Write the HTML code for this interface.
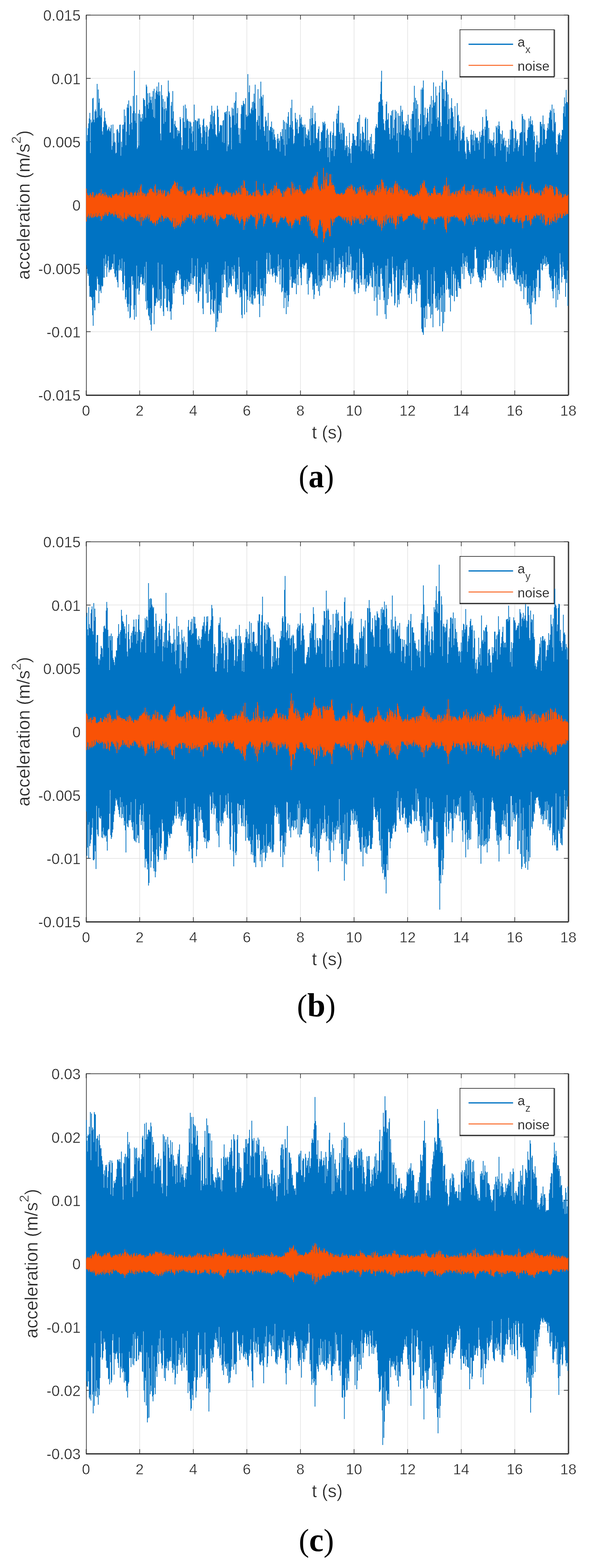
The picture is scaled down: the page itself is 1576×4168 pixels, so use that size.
<!DOCTYPE html>
<html lang="en"><head><meta charset="utf-8"><title>Acceleration signals</title>
<style>
html,body{margin:0;padding:0;background:#fff}
body{width:1576px;height:4168px;overflow:hidden}
svg{display:block}
text{font-family:"Liberation Sans",Arial,Helvetica,sans-serif;fill:#262626;stroke:#fff;stroke-width:0.6px}
.lg{stroke-width:0.2px}
.cap{font-family:"Liberation Serif","Times New Roman",serif;fill:#000;stroke:none}
.cap .par{font-size:84px;font-weight:400}
.cap .let{font-size:88px;font-weight:700}
</style></head><body>
<svg width="1576" height="4168" viewBox="0 0 1576 4168">
<rect width="1576" height="4168" fill="#fff"/>
<path d="M371.31 40.0V1050.0M513.72 40.0V1050.0M656.13 40.0V1050.0M798.54 40.0V1050.0M940.96 40.0V1050.0M1083.37 40.0V1050.0M1225.78 40.0V1050.0M1368.19 40.0V1050.0M228.9 208.33H1510.6M228.9 376.67H1510.6M228.9 545.00H1510.6M228.9 713.33H1510.6M228.9 881.67H1510.6" stroke="#262626" stroke-opacity="0.14" stroke-width="1.5" fill="none"/>
<path d="M228.90 1050.0v-12.0M228.90 40.0v12.0M371.31 1050.0v-12.0M371.31 40.0v12.0M513.72 1050.0v-12.0M513.72 40.0v12.0M656.13 1050.0v-12.0M656.13 40.0v12.0M798.54 1050.0v-12.0M798.54 40.0v12.0M940.96 1050.0v-12.0M940.96 40.0v12.0M1083.37 1050.0v-12.0M1083.37 40.0v12.0M1225.78 1050.0v-12.0M1225.78 40.0v12.0M1368.19 1050.0v-12.0M1368.19 40.0v12.0M1510.60 1050.0v-12.0M1510.60 40.0v12.0M228.9 40.00h12.0M1510.6 40.00h-12.0M228.9 208.33h12.0M1510.6 208.33h-12.0M228.9 376.67h12.0M1510.6 376.67h-12.0M228.9 545.00h12.0M1510.6 545.00h-12.0M228.9 713.33h12.0M1510.6 713.33h-12.0M228.9 881.67h12.0M1510.6 881.67h-12.0M228.9 1050.00h12.0M1510.6 1050.00h-12.0" stroke="#262626" stroke-width="1.6" fill="none"/>
<rect x="228.70" y="39.40" width="1282.20" height="1.7" fill="#262626"/><rect x="228.70" y="39.40" width="1.7" height="1012.80" fill="#262626"/><rect x="1510.90" y="39.80" width="2.0" height="1010.40" fill="#5c5c5c"/><rect x="1509.20" y="39.40" width="1.8" height="1012.80" fill="#262626"/><rect x="228.70" y="1049.00" width="1282.30" height="3.2" fill="#262626"/>
<path d="M229.7 339V705M231.2 377V713M232.7 359V727M234.2 341V733M235.7 328V728M237.2 315V760M238.7 300V789M240.2 407V788M241.7 318V789M243.2 327V791M244.7 324V798M246.2 262V838M247.7 260V866M249.2 318V789M250.7 325V818M252.2 296V825M253.7 291V771M255.2 296V770M256.7 314V773M258.2 223V735M259.7 312V741M261.2 238V756M262.7 273V806M264.2 262V757M265.7 307V774M267.2 290V770M268.7 312V779M270.2 287V759M271.7 349V762M273.2 358V760M274.7 338V738M276.2 323V687M277.7 296V738M279.2 313V707M280.7 322V677M282.2 329V701M283.7 333V736M285.2 348V711M286.7 345V693M288.2 342V681M289.7 337V724M291.2 347V718M292.7 350V715M294.2 341V718M295.7 332V716M297.2 398V710M298.7 388V701M300.2 331V700M301.7 379V715M303.2 354V676M304.7 377V727M306.2 379V737M307.7 408V735M309.2 406V719M310.7 345V744M312.2 343V750M313.7 349V764M315.2 379V705M316.7 353V719M318.2 332V690M319.7 331V718M321.2 414V713M322.7 377V720M324.2 391V687M325.7 332V750M327.2 343V772M328.7 331V755M330.2 291V696M331.7 325V733M333.2 308V796M334.7 386V790M336.2 350V770M337.7 286V807M339.2 277V816M340.7 287V828M342.2 267V808M343.7 359V764M345.2 330V846M346.7 281V843M348.2 283V812M349.7 326V735M351.2 344V734M352.7 301V757M354.2 255V746M355.7 295V823M357.2 188V850M358.7 321V811M360.2 301V767M361.7 327V842M363.2 253V706M364.7 396V768M366.2 392V766M367.7 302V734M369.2 387V783M370.7 292V773M372.2 304V751M373.7 323V737M375.2 313V729M376.7 323V736M378.2 303V756M379.7 317V755M381.2 261V740M382.7 265V759M384.2 266V709M385.7 282V752M387.2 313V801M388.7 225V696M390.2 230V823M391.7 278V799M393.2 248V819M394.7 289V838M396.2 273V841M397.7 247V851M399.2 257V819M400.7 266V863M402.2 274V879M403.7 257V832M405.2 291V757M406.7 242V766M408.2 311V763M409.7 236V862M411.2 314V813M412.7 263V813M414.2 246V806M415.7 241V791M417.2 230V794M418.7 251V803M420.2 244V698M421.7 219V799M423.2 254V799M424.7 243V769M426.2 355V819M427.7 373V795M429.2 226V813M430.7 253V703M432.2 285V749M433.7 263V828M435.2 329V840M436.7 290V759M438.2 270V794M439.7 324V760M441.2 288V766M442.7 294V817M444.2 256V817M445.7 260V827M447.2 214V769M448.7 243V799M450.2 247V803M451.7 353V828M453.2 352V827M454.7 281V850M456.2 271V820M457.7 315V809M459.2 242V752M460.7 296V766M462.2 368V780M463.7 330V757M465.2 321V752M466.7 335V724M468.2 339V747M469.7 339V732M471.2 362V726M472.7 346V719M474.2 355V719M475.7 348V728M477.2 354V744M478.7 311V730M480.2 317V741M481.7 365V768M483.2 398V781M484.7 386V787M486.2 314V782M487.7 281V810M489.2 324V761M490.7 340V745M492.2 278V782M493.7 340V763M495.2 288V773M496.7 320V742M498.2 316V776M499.7 321V770M501.2 395V748M502.7 323V750M504.2 341V760M505.7 323V755M507.2 326V726M508.7 355V755M510.2 336V686M511.7 378V739M513.2 349V757M514.7 324V740M516.2 278V735M517.7 401V734M519.2 319V706M520.7 320V775M522.2 400V781M523.7 323V736M525.2 321V687M526.7 315V805M528.2 342V800M529.7 315V752M531.2 331V775M532.7 338V761M534.2 354V765M535.7 382V711M537.2 365V756M538.7 333V820M540.2 318V835M541.7 315V725M543.2 347V730M544.7 337V728M546.2 383V703M547.7 351V780M549.2 333V714M550.7 337V805M552.2 399V697M553.7 363V804M555.2 346V742M556.7 342V757M558.2 324V775M559.7 305V836M561.2 330V822M562.7 281V796M564.2 296V771M565.7 343V826M567.2 309V830M568.7 300V834M570.2 294V799M571.7 331V794M573.2 357V882M574.7 360V751M576.2 364V870M577.7 281V847M579.2 291V855M580.7 311V826M582.2 354V810M583.7 349V832M585.2 333V812M586.7 332V802M588.2 335V832M589.7 333V731M591.2 378V779M592.7 321V729M594.2 319V764M595.7 380V717M597.2 299V730M598.7 298V695M600.2 303V745M601.7 296V790M603.2 402V751M604.7 281V791M606.2 389V707M607.7 384V764M609.2 296V759M610.7 305V741M612.2 310V753M613.7 339V756M615.2 397V761M616.7 286V710M618.2 307V733M619.7 289V716M621.2 307V741M622.7 273V705M624.2 332V722M625.7 268V775M627.2 245V782M628.7 328V777M630.2 301V740M631.7 287V757M633.2 340V769M634.7 358V684M636.2 380V709M637.7 341V791M639.2 381V778M640.7 303V789M642.2 279V837M643.7 284V846M645.2 280V724M646.7 268V768M648.2 275V772M649.7 277V836M651.2 345V755M652.7 261V770M654.2 305V774M655.7 311V830M657.2 309V787M658.7 197V797M660.2 307V722M661.7 245V732M663.2 227V800M664.7 300V790M666.2 303V728M667.7 290V807M669.2 286V783M670.7 271V807M672.2 293V810M673.7 270V773M675.2 249V786M676.7 274V794M678.2 225V792M679.7 289V774M681.2 373V763M682.7 324V693M684.2 319V783M685.7 237V775M687.2 334V782M688.7 308V808M690.2 262V843M691.7 344V742M693.2 217V766M694.7 256V785M696.2 259V766M697.7 281V774M699.2 252V813M700.7 337V787M702.2 348V739M703.7 361V782M705.2 310V788M706.7 323V754M708.2 320V689M709.7 377V672M711.2 335V728M712.7 300V718M714.2 400V722M715.7 346V672M717.2 348V729M718.7 337V677M720.2 338V715M721.7 323V714M723.2 351V730M724.7 340V735M726.2 371V728M727.7 344V712M729.2 357V725M730.7 365V732M732.2 372V751M733.7 394V733M735.2 397V732M736.7 369V736M738.2 356V708M739.7 380V676M741.2 368V721M742.7 374V705M744.2 403V756M745.7 351V716M747.2 362V689M748.7 362V777M750.2 343V774M751.7 370V765M753.2 319V711M754.7 385V819M756.2 323V777M757.7 414V792M759.2 344V778M760.7 326V835M762.2 384V773M763.7 329V785M765.2 310V816M766.7 298V801M768.2 368V784M769.7 338V689M771.2 332V744M772.7 287V710M774.2 339V735M775.7 265V765M777.2 322V765M778.7 344V752M780.2 383V751M781.7 380V743M783.2 361V753M784.7 300V754M786.2 315V740M787.7 325V782M789.2 343V691M790.7 318V730M792.2 355V758M793.7 354V715M795.2 337V675M796.7 305V709M798.2 315V724M799.7 328V739M801.2 311V758M802.7 331V710M804.2 339V701M805.7 332V703M807.2 337V713M808.7 389V706M810.2 331V704M811.7 339V700M813.2 366V697M814.7 357V700M816.2 368V755M817.7 360V715M819.2 344V783M820.7 349V746M822.2 372V739M823.7 316V737M825.2 386V727M826.7 287V722M828.2 333V724M829.7 314V729M831.2 281V770M832.7 330V760M834.2 380V795M835.7 330V783M837.2 300V754M838.7 322V742M840.2 368V753M841.7 367V760M843.2 371V759M844.7 353V673M846.2 343V774M847.7 336V732M849.2 402V786M850.7 375V748M852.2 396V763M853.7 351V745M855.2 352V759M856.7 347V731M858.2 324V742M859.7 327V738M861.2 333V691M862.7 323V741M864.2 329V733M865.7 393V690M867.2 367V702M868.7 346V693M870.2 342V747M871.7 418V718M873.2 358V731M874.7 392V733M876.2 431V713M877.7 353V766M879.2 349V698M880.7 394V722M882.2 401V747M883.7 359V742M885.2 353V730M886.7 323V735M888.2 415V659M889.7 361V750M891.2 397V743M892.7 361V722M894.2 316V732M895.7 302V708M897.2 328V745M898.7 294V731M900.2 281V702M901.7 351V685M903.2 357V702M904.7 326V691M906.2 371V738M907.7 355V728M909.2 326V711M910.7 372V680M912.2 328V696M913.7 345V716M915.2 339V764M916.7 399V752M918.2 387V727M919.7 393V671M921.2 362V710M922.7 386V722M924.2 415V704M925.7 391V724M927.2 407V655M928.7 353V705M930.2 395V724M931.7 408V675M933.2 433V682M934.7 388V743M936.2 380V739M937.7 355V718M939.2 356V719M940.7 361V775M942.2 372V770M943.7 372V782M945.2 387V718M946.7 387V751M948.2 362V698M949.7 325V742M951.2 324V755M952.7 315V779M954.2 389V766M955.7 305V661M957.2 370V732M958.7 355V751M960.2 402V742M961.7 373V757M963.2 337V670M964.7 350V675M966.2 353V686M967.7 379V757M969.2 369V742M970.7 316V740M972.2 312V775M973.7 399V766M975.2 373V731M976.7 316V750M978.2 402V761M979.7 372V758M981.2 387V755M982.7 381V726M984.2 364V733M985.7 410V739M987.2 356V718M988.7 397V762M990.2 408V764M991.7 408V698M993.2 422V710M994.7 402V800M996.2 383V721M997.7 341V761M999.2 336V791M1000.7 330V728M1002.2 339V839M1003.7 340V706M1005.2 298V783M1006.7 273V761M1008.2 270V763M1009.7 271V797M1011.2 250V714M1012.7 217V728M1014.2 188V712M1015.7 265V741M1017.2 281V760M1018.7 317V775M1020.2 328V798M1021.7 345V791M1023.2 347V835M1024.7 321V706M1026.2 277V848M1027.7 270V706M1029.2 319V811M1030.7 317V688M1032.2 301V795M1033.7 340V765M1035.2 356V754M1036.7 371V751M1038.2 306V755M1039.7 308V778M1041.2 295V788M1042.7 368V682M1044.2 292V712M1045.7 340V729M1047.2 360V747M1048.7 318V812M1050.2 292V806M1051.7 313V737M1053.2 296V719M1054.7 374V707M1056.2 354V817M1057.7 301V784M1059.2 405V797M1060.7 308V809M1062.2 352V716M1063.7 308V780M1065.2 281V772M1066.7 358V768M1068.2 297V744M1069.7 292V732M1071.2 331V718M1072.7 323V752M1074.2 360V761M1075.7 347V699M1077.2 333V693M1078.7 342V764M1080.2 322V745M1081.7 330V689M1083.2 330V731M1084.7 305V783M1086.2 342V783M1087.7 363V792M1089.2 346V779M1090.7 368V768M1092.2 316V770M1093.7 406V808M1095.2 303V757M1096.7 295V745M1098.2 303V710M1099.7 272V747M1101.2 228V752M1102.7 339V742M1104.2 260V780M1105.7 289V756M1107.2 267V801M1108.7 374V767M1110.2 277V758M1111.7 316V751M1113.2 353V728M1114.7 350V730M1116.2 333V757M1117.7 303V743M1119.2 238V817M1120.7 370V874M1122.2 233V882M1123.7 238V884M1125.2 214V890M1126.7 306V818M1128.2 338V845M1129.7 286V870M1131.2 336V814M1132.7 330V812M1134.2 313V848M1135.7 289V718M1137.2 300V807M1138.7 323V795M1140.2 360V808M1141.7 284V816M1143.2 278V813M1144.7 349V846M1146.2 255V729M1147.7 329V836M1149.2 286V807M1150.7 266V870M1152.2 219V781M1153.7 281V710M1155.2 273V747M1156.7 271V794M1158.2 230V819M1159.7 316V787M1161.2 254V817M1162.7 337V826M1164.2 312V779M1165.7 321V823M1167.2 246V797M1168.7 228V867M1170.2 325V792M1171.7 363V763M1173.2 335V829M1174.7 219V785M1176.2 188V881M1177.7 263V757M1179.2 237V859M1180.7 237V779M1182.2 283V829M1183.7 268V720M1185.2 212V725M1186.7 216V770M1188.2 245V730M1189.7 330V739M1191.2 251V767M1192.7 317V770M1194.2 289V791M1195.7 373V768M1197.2 315V828M1198.7 286V784M1200.2 261V709M1201.7 288V786M1203.2 298V787M1204.7 310V729M1206.2 339V720M1207.7 371V801M1209.2 282V740M1210.7 355V730M1212.2 362V773M1213.7 347V789M1215.2 274V789M1216.7 308V743M1218.2 305V750M1219.7 402V766M1221.2 322V760M1222.7 336V766M1224.2 374V768M1225.7 373V708M1227.2 369V710M1228.7 347V728M1230.2 338V673M1231.7 353V701M1233.2 334V742M1234.7 374V707M1236.2 403V684M1237.7 408V695M1239.2 423V710M1240.7 364V680M1242.2 371V698M1243.7 381V720M1245.2 375V726M1246.7 399V731M1248.2 404V734M1249.7 409V714M1251.2 358V755M1252.7 345V725M1254.2 371V726M1255.7 358V739M1257.2 386V715M1258.7 348V735M1260.2 373V713M1261.7 401V664M1263.2 355V656M1264.7 365V663M1266.2 366V687M1267.7 368V685M1269.2 365V724M1270.7 381V730M1272.2 374V737M1273.7 398V738M1275.2 350V750M1276.7 379V742M1278.2 364V752M1279.7 359V764M1281.2 347V735M1282.7 311V745M1284.2 343V739M1285.7 361V718M1287.2 422V690M1288.7 337V729M1290.2 345V745M1291.7 291V713M1293.2 309V712M1294.7 322V690M1296.2 320V691M1297.7 381V682M1299.2 340V696M1300.7 370V666M1302.2 376V687M1303.7 371V713M1305.2 381V710M1306.7 374V675M1308.2 374V677M1309.7 386V693M1311.2 371V721M1312.7 352V712M1314.2 392V683M1315.7 415V727M1317.2 382V666M1318.7 335V732M1320.2 339V710M1321.7 380V670M1323.2 333V746M1324.7 343V752M1326.2 323V691M1327.7 335V735M1329.2 355V681M1330.7 400V745M1332.2 357V664M1333.7 382V722M1335.2 347V727M1336.7 369V764M1338.2 373V725M1339.7 366V731M1341.2 389V718M1342.7 386V743M1344.2 374V746M1345.7 430V699M1347.2 391V716M1348.7 403V726M1350.2 392V702M1351.7 369V675M1353.2 409V684M1354.7 385V698M1356.2 345V729M1357.7 371V661M1359.2 320V683M1360.7 323V706M1362.2 342V719M1363.7 343V725M1365.2 403V730M1366.7 367V745M1368.2 394V747M1369.7 344V711M1371.2 349V754M1372.7 380V697M1374.2 374V756M1375.7 370V743M1377.2 402V743M1378.7 391V732M1380.2 386V750M1381.7 354V761M1383.2 354V731M1384.7 351V774M1386.2 351V737M1387.7 303V754M1389.2 309V755M1390.7 414V721M1392.2 316V795M1393.7 352V763M1395.2 319V744M1396.7 374V765M1398.2 377V729M1399.7 386V761M1401.2 367V811M1402.7 345V804M1404.2 339V766M1405.7 315V809M1407.2 338V820M1408.7 322V760M1410.2 309V835M1411.7 331V863M1413.2 330V785M1414.7 320V804M1416.2 333V774M1417.7 372V745M1419.2 350V792M1420.7 362V766M1422.2 430V809M1423.7 405V801M1425.2 384V740M1426.7 360V763M1428.2 385V717M1429.7 376V719M1431.2 394V716M1432.7 392V790M1434.2 379V766M1435.7 324V773M1437.2 324V700M1438.7 336V701M1440.2 330V717M1441.7 385V719M1443.2 307V688M1444.7 342V704M1446.2 330V701M1447.7 345V680M1449.2 382V701M1450.7 370V708M1452.2 369V684M1453.7 347V705M1455.2 340V696M1456.7 328V702M1458.2 344V702M1459.7 313V729M1461.2 299V737M1462.7 292V739M1464.2 295V746M1465.7 318V734M1467.2 278V768M1468.7 347V774M1470.2 351V793M1471.7 289V768M1473.2 300V715M1474.7 328V734M1476.2 324V765M1477.7 381V817M1479.2 405V724M1480.7 411V757M1482.2 384V797M1483.7 357V771M1485.2 361V740M1486.7 353V782M1488.2 358V673M1489.7 377V703M1491.2 370V713M1492.7 360V751M1494.2 345V736M1495.7 346V696M1497.2 301V709M1498.7 283V731M1500.2 259V742M1501.7 310V741M1503.2 275V789M1504.7 239V742M1506.2 271V752M1507.7 272V719M1509.2 277V813" stroke="#0073C3" stroke-width="2.0" fill="none"/>
<path d="M229.7 501V589M231.2 513V576M232.7 518V577M234.2 520V573M235.7 519V568M237.2 526V580M238.7 518V573M240.2 513V576M241.7 517V567M243.2 524V579M244.7 519V578M246.2 510V574M247.7 511V579M249.2 525V569M250.7 525V577M252.2 519V576M253.7 522V574M255.2 519V566M256.7 514V577M258.2 517V578M259.7 521V575M261.2 516V571M262.7 513V575M264.2 514V566M265.7 512V575M267.2 520V575M268.7 503V587M270.2 520V582M271.7 516V582M273.2 514V571M274.7 515V574M276.2 522V575M277.7 519V570M279.2 511V564M280.7 522V572M282.2 518V565M283.7 517V569M285.2 521V574M286.7 525V574M288.2 525V569M289.7 519V563M291.2 523V564M292.7 522V566M294.2 525V571M295.7 525V567M297.2 527V569M298.7 516V566M300.2 519V569M301.7 520V572M303.2 520V576M304.7 516V570M306.2 517V562M307.7 515V570M309.2 514V572M310.7 515V569M312.2 521V579M313.7 518V579M315.2 521V568M316.7 518V581M318.2 514V579M319.7 522V572M321.2 511V585M322.7 523V575M324.2 510V586M325.7 516V580M327.2 501V589M328.7 507V581M330.2 525V565M331.7 524V579M333.2 519V581M334.7 505V583M336.2 509V583M337.7 519V580M339.2 511V575M340.7 519V568M342.2 518V577M343.7 516V572M345.2 523V570M346.7 512V574M348.2 511V574M349.7 512V577M351.2 513V576M352.7 523V576M354.2 518V578M355.7 521V579M357.2 512V581M358.7 513V576M360.2 509V569M361.7 520V580M363.2 520V587M364.7 512V586M366.2 514V584M367.7 505V588M369.2 520V569M370.7 511V590M372.2 500V568M373.7 495V578M375.2 490V600M376.7 509V576M378.2 520V577M379.7 512V588M381.2 513V585M382.7 518V578M384.2 515V580M385.7 514V584M387.2 523V573M388.7 521V577M390.2 516V579M391.7 512V574M393.2 515V569M394.7 512V582M396.2 504V578M397.7 505V571M399.2 501V589M400.7 501V587M402.2 502V585M403.7 502V588M405.2 510V593M406.7 509V592M408.2 511V595M409.7 514V591M411.2 495V591M412.7 490V600M414.2 507V594M415.7 521V587M417.2 512V586M418.7 518V595M420.2 503V584M421.7 507V584M423.2 515V577M424.7 505V580M426.2 503V576M427.7 508V590M429.2 513V569M430.7 518V573M432.2 506V574M433.7 516V578M435.2 513V588M436.7 506V581M438.2 506V581M439.7 523V579M441.2 522V574M442.7 520V582M444.2 511V578M445.7 518V577M447.2 508V578M448.7 513V581M450.2 519V583M451.7 515V587M453.2 502V585M454.7 503V589M456.2 500V592M457.7 496V587M459.2 493V579M460.7 491V603M462.2 489V603M463.7 481V609M465.2 485V580M466.7 485V602M468.2 494V606M469.7 500V599M471.2 485V590M472.7 502V600M474.2 504V599M475.7 508V596M477.2 508V593M478.7 495V604M480.2 510V600M481.7 510V590M483.2 496V595M484.7 509V572M486.2 506V588M487.7 507V587M489.2 517V592M490.7 515V584M492.2 516V578M493.7 521V586M495.2 519V573M496.7 511V579M498.2 506V577M499.7 509V578M501.2 508V579M502.7 507V569M504.2 506V568M505.7 504V581M507.2 520V573M508.7 516V570M510.2 512V573M511.7 499V589M513.2 513V585M514.7 498V579M516.2 496V594M517.7 504V579M519.2 503V582M520.7 518V583M522.2 514V576M523.7 514V570M525.2 517V580M526.7 520V573M528.2 521V571M529.7 520V569M531.2 520V574M532.7 517V571M534.2 515V572M535.7 508V568M537.2 517V584M538.7 525V578M540.2 516V581M541.7 507V580M543.2 499V591M544.7 515V576M546.2 514V565M547.7 522V586M549.2 524V573M550.7 523V583M552.2 512V572M553.7 525V567M555.2 510V574M556.7 522V577M558.2 517V570M559.7 517V574M561.2 515V573M562.7 517V576M564.2 518V571M565.7 521V574M567.2 519V579M568.7 520V588M570.2 501V583M571.7 508V571M573.2 512V579M574.7 494V596M576.2 500V591M577.7 488V602M579.2 514V584M580.7 512V598M582.2 509V582M583.7 496V583M585.2 496V572M586.7 512V578M588.2 511V576M589.7 515V581M591.2 517V580M592.7 520V582M594.2 515V583M595.7 518V583M597.2 510V581M598.7 515V579M600.2 505V579M601.7 509V569M603.2 509V568M604.7 510V570M606.2 512V572M607.7 512V569M609.2 511V570M610.7 514V571M612.2 514V573M613.7 512V572M615.2 523V570M616.7 522V568M618.2 516V575M619.7 514V571M621.2 511V576M622.7 514V566M624.2 519V582M625.7 519V581M627.2 506V585M628.7 508V570M630.2 516V577M631.7 512V581M633.2 513V586M634.7 499V586M636.2 511V594M637.7 517V594M639.2 517V588M640.7 494V577M642.2 517V583M643.7 492V574M645.2 500V582M646.7 499V588M648.2 479V611M649.7 482V600M651.2 500V596M652.7 500V589M654.2 506V580M655.7 521V577M657.2 507V589M658.7 508V581M660.2 520V574M661.7 519V583M663.2 518V577M664.7 515V574M666.2 515V568M667.7 522V571M669.2 519V572M670.7 520V575M672.2 512V576M673.7 512V575M675.2 510V578M676.7 522V578M678.2 522V571M679.7 508V601M681.2 481V609M682.7 506V593M684.2 506V596M685.7 517V588M687.2 504V566M688.7 510V584M690.2 518V580M691.7 515V570M693.2 520V569M694.7 523V567M696.2 519V573M697.7 519V581M699.2 519V567M700.7 488V602M702.2 506V594M703.7 510V595M705.2 506V587M706.7 513V576M708.2 514V580M709.7 521V574M711.2 518V568M712.7 519V570M714.2 514V573M715.7 515V573M717.2 514V576M718.7 505V582M720.2 512V579M721.7 502V581M723.2 508V569M724.7 519V593M726.2 507V590M727.7 501V591M729.2 492V589M730.7 513V590M732.2 494V590M733.7 494V587M735.2 485V605M736.7 509V597M738.2 501V589M739.7 502V594M741.2 502V591M742.7 502V586M744.2 506V581M745.7 511V574M747.2 514V579M748.7 514V577M750.2 524V579M751.7 523V578M753.2 507V585M754.7 523V580M756.2 511V581M757.7 507V575M759.2 510V576M760.7 502V580M762.2 507V590M763.7 500V592M765.2 496V594M766.7 499V596M768.2 501V601M769.7 500V587M771.2 499V592M772.7 516V588M774.2 520V601M775.7 483V607M777.2 500V598M778.7 488V599M780.2 501V594M781.7 512V593M783.2 496V585M784.7 505V585M786.2 509V580M787.7 504V583M789.2 503V587M790.7 503V586M792.2 505V582M793.7 513V586M795.2 503V596M796.7 492V598M798.2 501V588M799.7 508V575M801.2 508V577M802.7 510V575M804.2 513V576M805.7 514V575M807.2 518V573M808.7 516V575M810.2 514V576M811.7 514V578M813.2 507V572M814.7 509V573M816.2 504V578M817.7 500V589M819.2 508V574M820.7 503V579M822.2 506V586M823.7 501V601M825.2 499V582M826.7 496V611M828.2 506V614M829.7 500V613M831.2 485V608M832.7 503V621M834.2 472V619M835.7 468V605M837.2 473V627M838.7 466V628M840.2 479V625M841.7 470V628M843.2 457V633M844.7 492V608M846.2 496V600M847.7 504V596M849.2 503V585M850.7 508V583M852.2 507V587M853.7 495V598M855.2 489V603M856.7 501V593M858.2 504V616M859.7 446V644M861.2 479V633M862.7 503V634M864.2 469V620M865.7 486V614M867.2 477V616M868.7 459V612M870.2 493V607M871.7 496V606M873.2 494V612M874.7 487V617M876.2 463V628M877.7 478V628M879.2 463V579M880.7 493V583M882.2 485V588M883.7 492V600M885.2 492V592M886.7 491V581M888.2 496V590M889.7 505V582M891.2 511V579M892.7 514V579M894.2 516V577M895.7 517V576M897.2 514V576M898.7 515V574M900.2 516V572M901.7 516V574M903.2 519V574M904.7 516V576M906.2 513V575M907.7 514V579M909.2 512V577M910.7 518V583M912.2 516V580M913.7 517V576M915.2 515V586M916.7 513V583M918.2 506V578M919.7 503V577M921.2 506V589M922.7 498V593M924.2 500V585M925.7 501V577M927.2 494V587M928.7 503V595M930.2 495V586M931.7 502V590M933.2 490V600M934.7 496V598M936.2 493V574M937.7 503V583M939.2 508V587M940.7 505V577M942.2 497V593M943.7 517V585M945.2 509V576M946.7 516V580M948.2 515V586M949.7 514V582M951.2 500V580M952.7 510V581M954.2 506V586M955.7 497V595M957.2 497V572M958.7 496V595M960.2 504V593M961.7 511V579M963.2 506V583M964.7 492V598M966.2 502V582M967.7 505V583M969.2 506V579M970.7 512V580M972.2 503V590M973.7 514V570M975.2 520V573M976.7 519V572M978.2 510V585M979.7 515V580M981.2 509V580M982.7 516V576M984.2 507V581M985.7 506V572M987.2 513V583M988.7 517V588M990.2 511V582M991.7 505V585M993.2 518V588M994.7 520V580M996.2 503V577M997.7 508V583M999.2 509V585M1000.7 506V585M1002.2 492V575M1003.7 492V600M1005.2 500V596M1006.7 512V591M1008.2 497V600M1009.7 490V603M1011.2 510V596M1012.7 503V586M1014.2 477V613M1015.7 478V606M1017.2 486V593M1018.7 484V586M1020.2 496V575M1021.7 501V600M1023.2 507V589M1024.7 500V572M1026.2 494V595M1027.7 517V570M1029.2 509V584M1030.7 508V582M1032.2 504V579M1033.7 504V578M1035.2 500V592M1036.7 498V572M1038.2 512V578M1039.7 513V581M1041.2 498V593M1042.7 500V573M1044.2 517V579M1045.7 513V593M1047.2 494V595M1048.7 488V586M1050.2 492V600M1051.7 481V609M1053.2 489V599M1054.7 498V591M1056.2 487V574M1057.7 492V575M1059.2 509V596M1060.7 514V570M1062.2 495V576M1063.7 504V576M1065.2 504V568M1066.7 502V575M1068.2 505V568M1069.7 506V579M1071.2 506V588M1072.7 507V589M1074.2 516V587M1075.7 500V586M1077.2 508V584M1078.7 504V584M1080.2 508V580M1081.7 506V583M1083.2 504V579M1084.7 516V574M1086.2 516V574M1087.7 512V574M1089.2 521V573M1090.7 521V567M1092.2 516V572M1093.7 517V573M1095.2 519V571M1096.7 523V567M1098.2 522V569M1099.7 522V568M1101.2 522V570M1102.7 519V575M1104.2 519V573M1105.7 518V578M1107.2 518V577M1108.7 511V574M1110.2 515V579M1111.7 516V581M1113.2 521V577M1114.7 507V582M1116.2 512V571M1117.7 492V576M1119.2 502V582M1120.7 499V591M1122.2 488V588M1123.7 486V584M1125.2 492V586M1126.7 479V611M1128.2 483V593M1129.7 496V594M1131.2 501V591M1132.7 500V596M1134.2 507V591M1135.7 515V592M1137.2 512V582M1138.7 523V574M1140.2 512V575M1141.7 519V579M1143.2 520V578M1144.7 520V576M1146.2 513V583M1147.7 513V579M1149.2 514V581M1150.7 516V585M1152.2 500V581M1153.7 500V583M1155.2 494V596M1156.7 504V578M1158.2 512V583M1159.7 517V582M1161.2 518V582M1162.7 512V578M1164.2 518V576M1165.7 513V577M1167.2 513V580M1168.7 513V575M1170.2 512V577M1171.7 517V574M1173.2 522V575M1174.7 518V578M1176.2 516V581M1177.7 509V578M1179.2 496V574M1180.7 494V585M1182.2 491V603M1183.7 507V609M1185.2 495V610M1186.7 472V618M1188.2 499V580M1189.7 494V574M1191.2 521V594M1192.7 491V591M1194.2 503V576M1195.7 521V589M1197.2 514V577M1198.7 520V576M1200.2 514V576M1201.7 512V574M1203.2 513V577M1204.7 510V576M1206.2 516V573M1207.7 516V572M1209.2 517V579M1210.7 510V577M1212.2 507V577M1213.7 523V573M1215.2 516V577M1216.7 507V579M1218.2 509V580M1219.7 507V588M1221.2 505V584M1222.7 512V583M1224.2 516V587M1225.7 502V578M1227.2 507V583M1228.7 508V586M1230.2 497V588M1231.7 495V591M1233.2 496V585M1234.7 490V600M1236.2 517V595M1237.7 507V578M1239.2 519V575M1240.7 512V574M1242.2 507V580M1243.7 514V583M1245.2 507V566M1246.7 517V572M1248.2 508V570M1249.7 509V578M1251.2 518V577M1252.7 505V589M1254.2 502V582M1255.7 502V573M1257.2 492V598M1258.7 507V590M1260.2 510V571M1261.7 507V588M1263.2 503V581M1264.7 507V579M1266.2 503V588M1267.7 508V587M1269.2 508V570M1270.7 502V578M1272.2 523V577M1273.7 515V580M1275.2 513V567M1276.7 505V579M1278.2 514V575M1279.7 516V578M1281.2 509V590M1282.7 516V582M1284.2 500V585M1285.7 505V578M1287.2 518V589M1288.7 499V591M1290.2 507V578M1291.7 512V585M1293.2 515V585M1294.7 509V588M1296.2 513V584M1297.7 509V585M1299.2 523V567M1300.7 508V576M1302.2 514V582M1303.7 507V578M1305.2 513V581M1306.7 515V581M1308.2 509V569M1309.7 517V580M1311.2 525V584M1312.7 518V579M1314.2 516V591M1315.7 522V573M1317.2 523V593M1318.7 494V596M1320.2 494V592M1321.7 503V584M1323.2 501V595M1324.7 508V584M1326.2 506V589M1327.7 508V570M1329.2 512V574M1330.7 505V575M1332.2 502V577M1333.7 513V593M1335.2 516V585M1336.7 511V574M1338.2 516V596M1339.7 511V590M1341.2 494V596M1342.7 503V582M1344.2 510V577M1345.7 509V574M1347.2 513V580M1348.7 515V577M1350.2 518V572M1351.7 517V572M1353.2 519V567M1354.7 522V571M1356.2 519V581M1357.7 512V577M1359.2 512V580M1360.7 521V577M1362.2 522V589M1363.7 505V584M1365.2 511V591M1366.7 508V589M1368.2 516V591M1369.7 509V582M1371.2 519V584M1372.7 495V575M1374.2 508V582M1375.7 521V571M1377.2 503V589M1378.7 500V593M1380.2 498V586M1381.7 512V580M1383.2 519V586M1384.7 514V578M1386.2 488V592M1387.7 497V587M1389.2 483V607M1390.7 501V590M1392.2 508V588M1393.7 518V587M1395.2 507V586M1396.7 512V573M1398.2 512V572M1399.7 510V573M1401.2 509V585M1402.7 518V588M1404.2 518V571M1405.7 521V586M1407.2 518V584M1408.7 494V591M1410.2 490V600M1411.7 502V596M1413.2 507V581M1414.7 513V581M1416.2 511V584M1417.7 502V577M1419.2 507V572M1420.7 514V574M1422.2 516V575M1423.7 512V580M1425.2 513V567M1426.7 514V572M1428.2 511V570M1429.7 513V575M1431.2 517V572M1432.7 506V572M1434.2 512V573M1435.7 520V584M1437.2 519V568M1438.7 520V567M1440.2 506V576M1441.7 511V573M1443.2 509V592M1444.7 500V569M1446.2 516V572M1447.7 499V584M1449.2 495V597M1450.7 490V600M1452.2 497V589M1453.7 501V596M1455.2 495V589M1456.7 505V579M1458.2 501V578M1459.7 499V597M1461.2 492V598M1462.7 499V590M1464.2 492V582M1465.7 504V594M1467.2 494V587M1468.7 496V578M1470.2 503V588M1471.7 512V588M1473.2 519V590M1474.7 522V568M1476.2 517V576M1477.7 496V592M1479.2 498V585M1480.7 504V585M1482.2 501V567M1483.7 516V581M1485.2 521V578M1486.7 508V579M1488.2 519V566M1489.7 512V570M1491.2 518V580M1492.7 515V580M1494.2 527V580M1495.7 524V574M1497.2 524V568M1498.7 516V568M1500.2 522V574M1501.7 518V573M1503.2 515V563M1504.7 521V570M1506.2 520V570M1507.7 520V567M1509.2 517V569" stroke="#F95206" stroke-width="2.0" fill="none"/>
<text x="214.3" y="55.3" text-anchor="end" font-size="39.8">0.015</text>
<text x="214.3" y="223.6" text-anchor="end" font-size="39.8">0.01</text>
<text x="214.3" y="392.0" text-anchor="end" font-size="39.8">0.005</text>
<text x="214.3" y="560.3" text-anchor="end" font-size="39.8">0</text>
<text x="214.3" y="728.6" text-anchor="end" font-size="39.8">-0.005</text>
<text x="214.3" y="897.0" text-anchor="end" font-size="39.8">-0.01</text>
<text x="214.3" y="1065.3" text-anchor="end" font-size="39.8">-0.015</text>
<text x="228.7" y="1105.3" text-anchor="middle" font-size="39.0">0</text>
<text x="371.1" y="1105.3" text-anchor="middle" font-size="39.0">2</text>
<text x="513.5" y="1105.3" text-anchor="middle" font-size="39.0">4</text>
<text x="655.9" y="1105.3" text-anchor="middle" font-size="39.0">6</text>
<text x="798.3" y="1105.3" text-anchor="middle" font-size="39.0">8</text>
<text x="940.8" y="1105.3" text-anchor="middle" font-size="39.0">10</text>
<text x="1083.2" y="1105.3" text-anchor="middle" font-size="39.0">12</text>
<text x="1225.6" y="1105.3" text-anchor="middle" font-size="39.0">14</text>
<text x="1368.0" y="1105.3" text-anchor="middle" font-size="39.0">16</text>
<text x="1510.4" y="1105.3" text-anchor="middle" font-size="39.0">18</text>
<text x="869.8" y="1166.1" text-anchor="middle" font-size="47.5">t (s)</text>
<text transform="translate(79.1,545.0) rotate(-90)" text-anchor="middle" font-size="47.5">acceleration (m/s<tspan dy="-23.7" font-size="35">2</tspan><tspan dy="23.7">)</tspan></text>
<rect x="1221.6" y="78.2" width="253.6" height="127.6" fill="#fff"/><rect x="1221.60" y="78.20" width="251.60" height="1.7" fill="#262626"/><rect x="1221.60" y="78.20" width="1.7" height="127.60" fill="#262626"/><rect x="1473.20" y="78.60" width="2.0" height="125.20" fill="#5c5c5c"/><rect x="1471.50" y="78.20" width="1.8" height="127.60" fill="#262626"/><rect x="1221.60" y="202.60" width="251.70" height="3.2" fill="#262626"/>
<path d="M1245.3 117.6H1363.6" stroke="#0073C3" stroke-width="3.4"/>
<path d="M1245.3 173.6H1363.6" stroke="#F95206" stroke-width="2.4"/>
<text class="lg" x="1375.6" y="123.6" font-size="35.5">a<tspan dx="1.0" dy="17.5" font-size="27.0">x</tspan></text>
<text class="lg" x="1375.6" y="188.1" font-size="35.5">noise</text>
<text class="cap" transform="translate(840.6,1295.0) scale(0.935,1)" text-anchor="middle"><tspan class="par">(</tspan><tspan class="let">a</tspan><tspan class="par">)</tspan></text>
<path d="M371.31 1440.0V2450.0M513.72 1440.0V2450.0M656.13 1440.0V2450.0M798.54 1440.0V2450.0M940.96 1440.0V2450.0M1083.37 1440.0V2450.0M1225.78 1440.0V2450.0M1368.19 1440.0V2450.0M228.9 1608.33H1510.6M228.9 1776.67H1510.6M228.9 1945.00H1510.6M228.9 2113.33H1510.6M228.9 2281.67H1510.6" stroke="#262626" stroke-opacity="0.14" stroke-width="1.5" fill="none"/>
<path d="M228.90 2450.0v-12.0M228.90 1440.0v12.0M371.31 2450.0v-12.0M371.31 1440.0v12.0M513.72 2450.0v-12.0M513.72 1440.0v12.0M656.13 2450.0v-12.0M656.13 1440.0v12.0M798.54 2450.0v-12.0M798.54 1440.0v12.0M940.96 2450.0v-12.0M940.96 1440.0v12.0M1083.37 2450.0v-12.0M1083.37 1440.0v12.0M1225.78 2450.0v-12.0M1225.78 1440.0v12.0M1368.19 2450.0v-12.0M1368.19 1440.0v12.0M1510.60 2450.0v-12.0M1510.60 1440.0v12.0M228.9 1440.00h12.0M1510.6 1440.00h-12.0M228.9 1608.33h12.0M1510.6 1608.33h-12.0M228.9 1776.67h12.0M1510.6 1776.67h-12.0M228.9 1945.00h12.0M1510.6 1945.00h-12.0M228.9 2113.33h12.0M1510.6 2113.33h-12.0M228.9 2281.67h12.0M1510.6 2281.67h-12.0M228.9 2450.00h12.0M1510.6 2450.00h-12.0" stroke="#262626" stroke-width="1.6" fill="none"/>
<rect x="228.70" y="1439.40" width="1282.20" height="1.7" fill="#262626"/><rect x="228.70" y="1439.40" width="1.7" height="1012.80" fill="#262626"/><rect x="1510.90" y="1439.80" width="2.0" height="1010.40" fill="#5c5c5c"/><rect x="1509.20" y="1439.40" width="1.8" height="1012.80" fill="#262626"/><rect x="228.70" y="2449.00" width="1282.30" height="3.2" fill="#262626"/>
<path d="M229.7 1639V2157M231.2 1629V2275M232.7 1673V2253M234.2 1689V2192M235.7 1614V2281M237.2 1659V2185M238.7 1669V2249M240.2 1671V2242M241.7 1630V2232M243.2 1620V2219M244.7 1612V2200M246.2 1678V2175M247.7 1687V2286M249.2 1603V2287M250.7 1650V2284M252.2 1618V2247M253.7 1640V2263M255.2 1745V2310M256.7 1708V2142M258.2 1688V2205M259.7 1688V2218M261.2 1751V2223M262.7 1767V2148M264.2 1751V2172M265.7 1755V2175M267.2 1739V2176M268.7 1717V2169M270.2 1722V2226M271.7 1724V2210M273.2 1746V2228M274.7 1680V2200M276.2 1665V2218M277.7 1663V2221M279.2 1670V2226M280.7 1672V2222M282.2 1623V2221M283.7 1600V2237M285.2 1616V2261M286.7 1674V2207M288.2 1722V2203M289.7 1691V2204M291.2 1781V2163M292.7 1690V2100M294.2 1702V2220M295.7 1684V2230M297.2 1729V2225M298.7 1691V2213M300.2 1749V2205M301.7 1754V2185M303.2 1760V2165M304.7 1768V2156M306.2 1745V2142M307.7 1748V2122M309.2 1729V2128M310.7 1729V2125M312.2 1696V2139M313.7 1691V2144M315.2 1659V2153M316.7 1685V2164M318.2 1714V2172M319.7 1680V2119M321.2 1675V2146M322.7 1621V2175M324.2 1637V2132M325.7 1651V2164M327.2 1653V2174M328.7 1658V2144M330.2 1672V2194M331.7 1665V2182M333.2 1697V2207M334.7 1684V2266M336.2 1634V2140M337.7 1732V2189M339.2 1745V2197M340.7 1680V2199M342.2 1659V2180M343.7 1699V2181M345.2 1725V2166M346.7 1722V2180M348.2 1690V2132M349.7 1682V2186M351.2 1708V2198M352.7 1677V2207M354.2 1666V2185M355.7 1647V2230M357.2 1666V2234M358.7 1687V2236M360.2 1679V2124M361.7 1646V2239M363.2 1711V2191M364.7 1680V2228M366.2 1703V2219M367.7 1646V2221M369.2 1634V2241M370.7 1674V2165M372.2 1679V2152M373.7 1734V2140M375.2 1680V2193M376.7 1707V2182M378.2 1699V2166M379.7 1700V2206M381.2 1691V2136M382.7 1683V2184M384.2 1677V2258M385.7 1643V2306M387.2 1735V2283M388.7 1647V2282M390.2 1639V2290M391.7 1649V2311M393.2 1668V2296M394.7 1550V2354M396.2 1621V2347M397.7 1592V2165M399.2 1615V2205M400.7 1590V2306M402.2 1592V2289M403.7 1607V2220M405.2 1612V2228M406.7 1617V2264M408.2 1614V2308M409.7 1666V2316M411.2 1736V2271M412.7 1701V2332M414.2 1631V2317M415.7 1650V2258M417.2 1696V2214M418.7 1691V2276M420.2 1718V2291M421.7 1681V2285M423.2 1664V2200M424.7 1658V2250M426.2 1700V2261M427.7 1672V2254M429.2 1645V2242M430.7 1664V2178M432.2 1758V2188M433.7 1718V2210M435.2 1706V2208M436.7 1682V2286M438.2 1721V2270M439.7 1651V2270M441.2 1576V2285M442.7 1631V2263M444.2 1722V2248M445.7 1702V2252M447.2 1706V2211M448.7 1676V2217M450.2 1657V2221M451.7 1690V2228M453.2 1708V2216M454.7 1711V2216M456.2 1735V2217M457.7 1711V2196M459.2 1712V2181M460.7 1708V2192M462.2 1671V2188M463.7 1732V2167M465.2 1700V2169M466.7 1766V2130M468.2 1729V2176M469.7 1639V2168M471.2 1691V2131M472.7 1714V2144M474.2 1664V2163M475.7 1680V2176M477.2 1777V2171M478.7 1713V2158M480.2 1790V2177M481.7 1756V2195M483.2 1674V2170M484.7 1696V2184M486.2 1710V2180M487.7 1705V2171M489.2 1692V2165M490.7 1733V2163M492.2 1738V2121M493.7 1707V2179M495.2 1776V2161M496.7 1749V2212M498.2 1719V2207M499.7 1666V2222M501.2 1648V2182M502.7 1678V2263M504.2 1675V2248M505.7 1674V2223M507.2 1653V2240M508.7 1688V2257M510.2 1645V2282M511.7 1685V2294M513.2 1683V2254M514.7 1639V2178M516.2 1657V2136M517.7 1640V2151M519.2 1658V2184M520.7 1672V2175M522.2 1670V2276M523.7 1699V2258M525.2 1714V2236M526.7 1702V2144M528.2 1691V2196M529.7 1714V2159M531.2 1698V2181M532.7 1722V2145M534.2 1700V2153M535.7 1693V2177M537.2 1673V2180M538.7 1663V2187M540.2 1665V2212M541.7 1654V2226M543.2 1639V2227M544.7 1684V2238M546.2 1678V2229M547.7 1663V2207M549.2 1639V2255M550.7 1653V2236M552.2 1638V2236M553.7 1704V2239M555.2 1685V2233M556.7 1675V2234M558.2 1672V2112M559.7 1664V2117M561.2 1648V2153M562.7 1608V2163M564.2 1617V2148M565.7 1638V2106M567.2 1774V2136M568.7 1737V2165M570.2 1712V2138M571.7 1720V2149M573.2 1785V2143M574.7 1785V2209M576.2 1744V2175M577.7 1765V2216M579.2 1736V2187M580.7 1662V2221M582.2 1656V2252M583.7 1661V2182M585.2 1641V2113M586.7 1676V2187M588.2 1737V2196M589.7 1722V2179M591.2 1679V2183M592.7 1693V2189M594.2 1710V2161M595.7 1777V2158M597.2 1755V2148M598.7 1696V2156M600.2 1707V2114M601.7 1715V2138M603.2 1682V2166M604.7 1787V2174M606.2 1753V2109M607.7 1695V2131M609.2 1697V2176M610.7 1701V2244M612.2 1709V2259M613.7 1702V2224M615.2 1692V2133M616.7 1699V2162M618.2 1706V2194M619.7 1698V2263M621.2 1713V2303M622.7 1770V2191M624.2 1755V2212M625.7 1691V2267M627.2 1672V2273M628.7 1691V2263M630.2 1758V2216M631.7 1744V2135M633.2 1690V2137M634.7 1726V2191M636.2 1661V2154M637.7 1701V2140M639.2 1691V2140M640.7 1712V2175M642.2 1708V2196M643.7 1784V2187M645.2 1756V2140M646.7 1739V2196M648.2 1786V2149M649.7 1708V2125M651.2 1723V2197M652.7 1694V2235M654.2 1672V2181M655.7 1693V2167M657.2 1679V2227M658.7 1710V2190M660.2 1698V2233M661.7 1686V2236M663.2 1652V2234M664.7 1709V2224M666.2 1730V2244M667.7 1656V2271M669.2 1733V2265M670.7 1706V2233M672.2 1681V2273M673.7 1679V2192M675.2 1680V2293M676.7 1712V2293M678.2 1718V2276M679.7 1717V2305M681.2 1710V2203M682.7 1732V2219M684.2 1716V2232M685.7 1650V2255M687.2 1655V2217M688.7 1633V2218M690.2 1633V2234M691.7 1741V2289M693.2 1688V2271M694.7 1652V2260M696.2 1635V2305M697.7 1586V2257M699.2 1745V2267M700.7 1778V2219M702.2 1663V2266M703.7 1655V2248M705.2 1673V2289M706.7 1711V2280M708.2 1659V2190M709.7 1701V2267M711.2 1661V2249M712.7 1654V2248M714.2 1666V2242M715.7 1669V2251M717.2 1671V2238M718.7 1702V2259M720.2 1693V2256M721.7 1778V2192M723.2 1772V2266M724.7 1744V2261M726.2 1687V2265M727.7 1760V2245M729.2 1705V2168M730.7 1705V2140M732.2 1706V2146M733.7 1756V2161M735.2 1750V2171M736.7 1720V2147M738.2 1723V2164M739.7 1768V2160M741.2 1749V2190M742.7 1722V2163M744.2 1697V2236M745.7 1701V2278M747.2 1677V2234M748.7 1691V2221M750.2 1643V2221M751.7 1638V2305M753.2 1653V2265M754.7 1694V2241M756.2 1568V2272M757.7 1531V2212M759.2 1639V2250M760.7 1681V2214M762.2 1702V2131M763.7 1676V2133M765.2 1657V2178M766.7 1697V2197M768.2 1696V2173M769.7 1661V2208M771.2 1715V2159M772.7 1698V2226M774.2 1695V2200M775.7 1690V2195M777.2 1790V2197M778.7 1687V2181M780.2 1690V2207M781.7 1710V2199M783.2 1732V2181M784.7 1725V2181M786.2 1723V2204M787.7 1729V2200M789.2 1673V2178M790.7 1668V2138M792.2 1658V2218M793.7 1677V2148M795.2 1664V2128M796.7 1661V2226M798.2 1630V2136M799.7 1714V2218M801.2 1703V2218M802.7 1671V2206M804.2 1657V2197M805.7 1663V2180M807.2 1689V2173M808.7 1700V2188M810.2 1763V2184M811.7 1766V2178M813.2 1763V2173M814.7 1747V2151M816.2 1741V2189M817.7 1733V2177M819.2 1720V2191M820.7 1720V2191M822.2 1748V2215M823.7 1683V2150M825.2 1676V2252M826.7 1696V2254M828.2 1656V2270M829.7 1663V2226M831.2 1659V2250M832.7 1614V2212M834.2 1632V2222M835.7 1701V2254M837.2 1721V2202M838.7 1657V2229M840.2 1740V2277M841.7 1735V2264M843.2 1696V2190M844.7 1702V2288M846.2 1717V2316M847.7 1720V2267M849.2 1696V2259M850.7 1697V2176M852.2 1698V2230M853.7 1702V2220M855.2 1738V2215M856.7 1688V2205M858.2 1661V2187M859.7 1664V2202M861.2 1624V2214M862.7 1625V2141M864.2 1643V2178M865.7 1773V2212M867.2 1570V2236M868.7 1623V2223M870.2 1699V2190M871.7 1618V2229M873.2 1623V2168M874.7 1647V2260M876.2 1774V2231M877.7 1703V2292M879.2 1661V2236M880.7 1754V2233M882.2 1730V2240M883.7 1773V2185M885.2 1632V2211M886.7 1701V2261M888.2 1683V2218M889.7 1677V2200M891.2 1668V2232M892.7 1631V2216M894.2 1621V2195M895.7 1681V2205M897.2 1632V2182M898.7 1628V2205M900.2 1650V2198M901.7 1771V2124M903.2 1687V2242M904.7 1687V2193M906.2 1663V2232M907.7 1667V2270M909.2 1638V2289M910.7 1670V2270M912.2 1733V2187M913.7 1763V2215M915.2 1600V2341M916.7 1588V2165M918.2 1652V2295M919.7 1656V2232M921.2 1727V2298M922.7 1709V2160M924.2 1696V2257M925.7 1661V2256M927.2 1651V2235M928.7 1658V2235M930.2 1646V2224M931.7 1642V2193M933.2 1625V2152M934.7 1662V2156M936.2 1658V2181M937.7 1644V2162M939.2 1698V2150M940.7 1710V2192M942.2 1765V2181M943.7 1763V2156M945.2 1726V2179M946.7 1736V2191M948.2 1712V2167M949.7 1716V2183M951.2 1723V2209M952.7 1766V2201M954.2 1727V2226M955.7 1681V2240M957.2 1696V2258M958.7 1697V2264M960.2 1645V2264M961.7 1679V2225M963.2 1697V2200M964.7 1691V2303M966.2 1665V2246M967.7 1669V2254M969.2 1775V2252M970.7 1649V2223M972.2 1768V2267M973.7 1738V2231M975.2 1771V2270M976.7 1616V2251M978.2 1617V2249M979.7 1655V2247M981.2 1595V2209M982.7 1617V2221M984.2 1627V2256M985.7 1679V2257M987.2 1681V2256M988.7 1673V2244M990.2 1643V2227M991.7 1689V2180M993.2 1694V2120M994.7 1719V2145M996.2 1636V2151M997.7 1648V2172M999.2 1664V2172M1000.7 1649V2179M1002.2 1625V2167M1003.7 1631V2157M1005.2 1642V2185M1006.7 1641V2210M1008.2 1643V2234M1009.7 1720V2247M1011.2 1673V2149M1012.7 1619V2261M1014.2 1662V2304M1015.7 1614V2230M1017.2 1629V2321M1018.7 1620V2312M1020.2 1622V2297M1021.7 1599V2338M1023.2 1640V2331M1024.7 1659V2330M1026.2 1608V2375M1027.7 1618V2297M1029.2 1662V2274M1030.7 1716V2313M1032.2 1672V2203M1033.7 1669V2212M1035.2 1711V2212M1036.7 1731V2255M1038.2 1737V2237M1039.7 1647V2228M1041.2 1734V2229M1042.7 1583V2216M1044.2 1673V2195M1045.7 1665V2202M1047.2 1673V2192M1048.7 1736V2187M1050.2 1639V2211M1051.7 1651V2210M1053.2 1681V2195M1054.7 1675V2121M1056.2 1672V2154M1057.7 1663V2103M1059.2 1693V2146M1060.7 1690V2160M1062.2 1656V2177M1063.7 1698V2182M1065.2 1698V2130M1066.7 1759V2121M1068.2 1730V2166M1069.7 1699V2173M1071.2 1719V2174M1072.7 1720V2163M1074.2 1701V2148M1075.7 1763V2146M1077.2 1745V2191M1078.7 1712V2173M1080.2 1715V2176M1081.7 1666V2200M1083.2 1717V2213M1084.7 1659V2192M1086.2 1648V2200M1087.7 1743V2186M1089.2 1709V2168M1090.7 1651V2189M1092.2 1632V2189M1093.7 1782V2191M1095.2 1668V2139M1096.7 1667V2152M1098.2 1681V2154M1099.7 1682V2157M1101.2 1709V2183M1102.7 1703V2156M1104.2 1710V2177M1105.7 1724V2096M1107.2 1726V2182M1108.7 1743V2157M1110.2 1729V2109M1111.7 1733V2124M1113.2 1700V2130M1114.7 1748V2169M1116.2 1731V2183M1117.7 1771V2196M1119.2 1656V2187M1120.7 1647V2215M1122.2 1632V2170M1123.7 1656V2180M1125.2 1556V2208M1126.7 1607V2210M1128.2 1774V2212M1129.7 1714V2239M1131.2 1670V2195M1132.7 1689V2119M1134.2 1679V2248M1135.7 1638V2160M1137.2 1654V2234M1138.7 1716V2206M1140.2 1705V2210M1141.7 1675V2122M1143.2 1734V2177M1144.7 1742V2171M1146.2 1699V2180M1147.7 1665V2172M1149.2 1679V2132M1150.7 1702V2150M1152.2 1736V2232M1153.7 1614V2242M1155.2 1627V2256M1156.7 1620V2254M1158.2 1596V2246M1159.7 1558V2185M1161.2 1626V2223M1162.7 1605V2185M1164.2 1630V2227M1165.7 1572V2305M1167.2 1501V2341M1168.7 1571V2418M1170.2 1719V2326M1171.7 1649V2348M1173.2 1585V2288M1174.7 1607V2259M1176.2 1744V2326M1177.7 1665V2311M1179.2 1658V2281M1180.7 1666V2185M1182.2 1681V2162M1183.7 1668V2146M1185.2 1678V2198M1186.7 1658V2223M1188.2 1647V2113M1189.7 1762V2158M1191.2 1739V2204M1192.7 1694V2216M1194.2 1705V2182M1195.7 1671V2161M1197.2 1642V2160M1198.7 1641V2176M1200.2 1721V2163M1201.7 1644V2239M1203.2 1658V2202M1204.7 1628V2208M1206.2 1715V2125M1207.7 1697V2161M1209.2 1643V2175M1210.7 1672V2143M1212.2 1698V2163M1213.7 1680V2167M1215.2 1707V2141M1216.7 1720V2144M1218.2 1732V2138M1219.7 1744V2168M1221.2 1730V2121M1222.7 1733V2183M1224.2 1761V2117M1225.7 1708V2158M1227.2 1731V2160M1228.7 1675V2207M1230.2 1692V2238M1231.7 1658V2160M1233.2 1660V2181M1234.7 1682V2179M1236.2 1673V2218M1237.7 1619V2279M1239.2 1666V2179M1240.7 1661V2213M1242.2 1733V2232M1243.7 1705V2258M1245.2 1690V2206M1246.7 1698V2228M1248.2 1667V2233M1249.7 1651V2102M1251.2 1645V2231M1252.7 1663V2184M1254.2 1674V2107M1255.7 1662V2164M1257.2 1751V2143M1258.7 1721V2114M1260.2 1676V2155M1261.7 1697V2127M1263.2 1778V2159M1264.7 1762V2181M1266.2 1753V2134M1267.7 1790V2174M1269.2 1779V2191M1270.7 1747V2255M1272.2 1695V2223M1273.7 1760V2217M1275.2 1739V2246M1276.7 1723V2158M1278.2 1769V2296M1279.7 1636V2248M1281.2 1705V2205M1282.7 1701V2246M1284.2 1711V2121M1285.7 1675V2250M1287.2 1678V2235M1288.7 1706V2247M1290.2 1668V2230M1291.7 1667V2244M1293.2 1661V2228M1294.7 1679V2266M1296.2 1770V2239M1297.7 1736V2192M1299.2 1727V2236M1300.7 1725V2229M1302.2 1742V2203M1303.7 1762V2171M1305.2 1761V2154M1306.7 1787V2132M1308.2 1720V2120M1309.7 1742V2128M1311.2 1736V2134M1312.7 1721V2152M1314.2 1679V2155M1315.7 1679V2157M1317.2 1731V2207M1318.7 1699V2187M1320.2 1689V2235M1321.7 1753V2220M1323.2 1686V2246M1324.7 1638V2221M1326.2 1679V2290M1327.7 1673V2218M1329.2 1740V2226M1330.7 1720V2235M1332.2 1710V2232M1333.7 1693V2192M1335.2 1680V2181M1336.7 1666V2191M1338.2 1705V2154M1339.7 1721V2196M1341.2 1709V2181M1342.7 1708V2165M1344.2 1721V2198M1345.7 1647V2217M1347.2 1646V2137M1348.7 1645V2161M1350.2 1652V2222M1351.7 1610V2222M1353.2 1648V2270M1354.7 1640V2233M1356.2 1760V2224M1357.7 1733V2116M1359.2 1707V2116M1360.7 1772V2197M1362.2 1723V2140M1363.7 1709V2159M1365.2 1641V2180M1366.7 1649V2164M1368.2 1649V2175M1369.7 1655V2184M1371.2 1676V2134M1372.7 1674V2166M1374.2 1669V2162M1375.7 1663V2258M1377.2 1663V2257M1378.7 1656V2174M1380.2 1698V2235M1381.7 1619V2125M1383.2 1628V2270M1384.7 1632V2162M1386.2 1665V2310M1387.7 1645V2304M1389.2 1641V2207M1390.7 1629V2147M1392.2 1650V2277M1393.7 1645V2296M1395.2 1636V2203M1396.7 1606V2307M1398.2 1649V2291M1399.7 1668V2259M1401.2 1651V2224M1402.7 1612V2312M1404.2 1612V2264M1405.7 1635V2289M1407.2 1696V2140M1408.7 1702V2279M1410.2 1623V2221M1411.7 1654V2105M1413.2 1646V2198M1414.7 1648V2203M1416.2 1683V2182M1417.7 1633V2184M1419.2 1693V2158M1420.7 1699V2163M1422.2 1770V2127M1423.7 1763V2136M1425.2 1779V2121M1426.7 1772V2120M1428.2 1755V2120M1429.7 1759V2118M1431.2 1744V2128M1432.7 1739V2141M1434.2 1711V2149M1435.7 1721V2146M1437.2 1694V2166M1438.7 1783V2177M1440.2 1703V2164M1441.7 1691V2169M1443.2 1691V2191M1444.7 1703V2164M1446.2 1702V2180M1447.7 1698V2156M1449.2 1705V2131M1450.7 1756V2178M1452.2 1745V2178M1453.7 1728V2130M1455.2 1715V2154M1456.7 1728V2197M1458.2 1683V2139M1459.7 1714V2190M1461.2 1701V2207M1462.7 1687V2200M1464.2 1634V2189M1465.7 1659V2146M1467.2 1665V2143M1468.7 1721V2247M1470.2 1644V2220M1471.7 1759V2214M1473.2 1614V2238M1474.7 1565V2247M1476.2 1607V2232M1477.7 1610V2109M1479.2 1617V2261M1480.7 1678V2253M1482.2 1660V2261M1483.7 1616V2205M1485.2 1605V2209M1486.7 1606V2216M1488.2 1704V2117M1489.7 1674V2241M1491.2 1709V2228M1492.7 1720V2245M1494.2 1730V2247M1495.7 1704V2204M1497.2 1634V2173M1498.7 1684V2198M1500.2 1681V2100M1501.7 1687V2176M1503.2 1726V2179M1504.7 1712V2128M1506.2 1720V2152M1507.7 1753V2144M1509.2 1723V2117" stroke="#0073C3" stroke-width="2.0" fill="none"/>
<path d="M229.7 1896V1994M231.2 1898V1985M232.7 1903V1972M234.2 1920V1974M235.7 1912V1992M237.2 1911V1983M238.7 1919V1987M240.2 1909V1981M241.7 1907V1988M243.2 1922V1985M244.7 1914V1970M246.2 1913V1987M247.7 1912V1983M249.2 1905V1984M250.7 1905V1967M252.2 1907V1982M253.7 1907V1979M255.2 1922V1971M256.7 1921V1966M258.2 1924V1972M259.7 1921V1974M261.2 1919V1975M262.7 1920V1967M264.2 1918V1978M265.7 1915V1971M267.2 1908V1975M268.7 1909V1975M270.2 1918V1970M271.7 1920V1973M273.2 1919V1972M274.7 1913V1977M276.2 1912V1990M277.7 1905V1973M279.2 1916V1976M280.7 1907V1978M282.2 1909V1990M283.7 1909V1991M285.2 1898V1989M286.7 1920V1969M288.2 1897V1974M289.7 1908V1992M291.2 1894V1996M292.7 1900V1983M294.2 1903V1984M295.7 1911V1973M297.2 1921V1970M298.7 1912V1972M300.2 1917V1977M301.7 1915V1976M303.2 1910V1979M304.7 1914V1984M306.2 1911V1985M307.7 1912V1991M309.2 1915V1970M310.7 1888V2002M312.2 1904V1972M313.7 1902V1975M315.2 1907V1993M316.7 1901V1992M318.2 1907V1986M319.7 1907V1986M321.2 1908V1984M322.7 1909V1979M324.2 1915V1981M325.7 1909V1967M327.2 1912V1968M328.7 1911V1981M330.2 1911V1976M331.7 1911V1973M333.2 1915V1981M334.7 1917V1979M336.2 1917V1979M337.7 1906V1985M339.2 1913V1986M340.7 1919V1968M342.2 1905V1987M343.7 1901V1989M345.2 1913V1978M346.7 1904V1981M348.2 1908V1980M349.7 1917V1983M351.2 1915V1975M352.7 1915V1973M354.2 1920V1983M355.7 1922V1968M357.2 1913V1971M358.7 1913V1968M360.2 1913V1972M361.7 1916V1973M363.2 1914V1977M364.7 1917V1980M366.2 1912V1976M367.7 1916V1986M369.2 1909V1987M370.7 1904V1983M372.2 1902V1988M373.7 1903V1969M375.2 1902V1983M376.7 1900V1978M378.2 1898V1987M379.7 1895V1981M381.2 1896V1985M382.7 1892V1991M384.2 1897V1997M385.7 1881V2009M387.2 1903V2003M388.7 1899V1995M390.2 1892V2003M391.7 1913V1976M393.2 1901V1980M394.7 1903V1976M396.2 1913V1979M397.7 1901V1991M399.2 1917V1984M400.7 1911V1974M402.2 1913V1969M403.7 1913V1981M405.2 1906V1990M406.7 1899V1970M408.2 1898V1971M409.7 1903V1969M411.2 1900V1988M412.7 1888V2002M414.2 1911V1987M415.7 1909V1989M417.2 1892V1996M418.7 1900V1986M420.2 1893V1995M421.7 1913V1992M423.2 1915V1992M424.7 1905V1987M426.2 1911V1976M427.7 1899V1981M429.2 1900V1982M430.7 1902V1984M432.2 1902V1971M433.7 1911V1978M435.2 1914V1987M436.7 1917V1976M438.2 1910V1990M439.7 1919V1987M441.2 1918V1972M442.7 1917V1988M444.2 1902V1986M445.7 1916V1985M447.2 1908V1980M448.7 1900V1991M450.2 1893V1995M451.7 1904V1983M453.2 1887V1993M454.7 1888V1992M456.2 1886V2006M457.7 1887V2007M459.2 1881V2009M460.7 1878V1993M462.2 1877V1992M463.7 1872V2018M465.2 1877V1985M466.7 1897V1984M468.2 1914V1980M469.7 1903V1986M471.2 1899V1980M472.7 1903V1988M474.2 1904V1978M475.7 1906V1975M477.2 1907V1977M478.7 1906V1974M480.2 1904V1978M481.7 1910V1991M483.2 1905V1989M484.7 1906V1974M486.2 1904V1975M487.7 1903V1974M489.2 1911V1981M490.7 1899V1975M492.2 1909V1977M493.7 1919V1988M495.2 1894V1986M496.7 1892V1988M498.2 1893V1989M499.7 1896V1982M501.2 1916V1982M502.7 1888V2002M504.2 1890V1990M505.7 1902V1982M507.2 1902V1987M508.7 1906V1991M510.2 1912V1993M511.7 1911V1975M513.2 1906V1990M514.7 1899V1990M516.2 1900V1990M517.7 1900V1981M519.2 1905V1989M520.7 1908V1987M522.2 1907V1982M523.7 1903V1994M525.2 1910V1979M526.7 1914V1986M528.2 1907V1985M529.7 1890V1986M531.2 1889V1984M532.7 1911V1995M534.2 1911V1999M535.7 1904V1989M537.2 1887V1994M538.7 1882V1991M540.2 1879V2011M541.7 1910V1981M543.2 1890V1986M544.7 1908V1980M546.2 1890V1981M547.7 1892V1981M549.2 1894V1979M550.7 1905V1995M552.2 1916V1992M553.7 1921V1973M555.2 1907V1975M556.7 1906V1974M558.2 1918V1979M559.7 1919V1972M561.2 1913V1971M562.7 1915V1973M564.2 1916V1970M565.7 1922V1973M567.2 1913V1981M568.7 1913V1978M570.2 1906V1972M571.7 1911V1986M573.2 1914V1987M574.7 1897V1987M576.2 1901V1980M577.7 1904V1985M579.2 1898V1970M580.7 1902V1976M582.2 1899V1985M583.7 1897V1987M585.2 1899V1988M586.7 1893V1996M588.2 1891V1972M589.7 1888V1996M591.2 1888V2002M592.7 1897V1988M594.2 1898V1975M595.7 1898V1978M597.2 1906V1969M598.7 1918V1975M600.2 1900V1982M601.7 1912V1988M603.2 1910V1981M604.7 1913V1984M606.2 1914V1969M607.7 1919V1975M609.2 1916V1975M610.7 1916V1974M612.2 1913V1967M613.7 1913V1973M615.2 1912V1977M616.7 1913V1977M618.2 1903V1974M619.7 1912V1968M621.2 1911V1971M622.7 1902V1986M624.2 1903V1983M625.7 1903V1993M627.2 1896V1990M628.7 1901V1991M630.2 1916V1992M631.7 1909V1991M633.2 1902V1991M634.7 1904V1988M636.2 1899V1993M637.7 1907V1996M639.2 1904V1992M640.7 1889V2003M642.2 1898V2003M643.7 1893V1984M645.2 1891V1995M646.7 1877V2011M648.2 1903V2001M649.7 1912V2018M651.2 1868V2022M652.7 1908V2008M654.2 1906V1991M655.7 1921V1978M657.2 1905V1981M658.7 1911V1979M660.2 1912V1976M661.7 1913V1976M663.2 1919V1970M664.7 1917V1972M666.2 1917V1972M667.7 1914V1983M669.2 1915V1987M670.7 1914V1984M672.2 1909V1978M673.7 1893V1981M675.2 1910V1990M676.7 1917V1986M678.2 1913V2003M679.7 1882V1984M681.2 1907V2010M682.7 1912V1992M684.2 1866V2024M685.7 1875V1986M687.2 1917V2003M688.7 1903V1993M690.2 1908V1993M691.7 1909V1987M693.2 1920V1980M694.7 1920V1972M696.2 1911V1975M697.7 1916V1973M699.2 1905V1980M700.7 1890V2000M702.2 1905V1994M703.7 1913V1977M705.2 1910V1979M706.7 1918V1985M708.2 1912V1970M709.7 1904V1968M711.2 1920V1985M712.7 1917V1970M714.2 1916V1982M715.7 1910V1976M717.2 1913V1972M718.7 1906V1971M720.2 1915V1972M721.7 1909V1977M723.2 1905V1973M724.7 1902V1988M726.2 1907V1973M727.7 1896V1992M729.2 1896V1986M730.7 1899V1975M732.2 1887V1986M733.7 1884V1995M735.2 1883V2007M736.7 1896V1998M738.2 1899V1977M739.7 1908V1982M741.2 1910V1979M742.7 1906V1992M744.2 1895V1978M745.7 1905V1987M747.2 1913V1987M748.7 1908V1973M750.2 1899V1977M751.7 1907V1980M753.2 1899V1977M754.7 1912V1984M756.2 1912V1979M757.7 1902V1972M759.2 1902V1978M760.7 1916V1991M762.2 1910V1988M763.7 1913V1990M765.2 1912V1979M766.7 1903V1985M768.2 1882V1997M769.7 1888V2009M771.2 1883V2005M772.7 1863V2037M774.2 1843V2047M775.7 1877V2033M777.2 1871V2005M778.7 1862V2005M780.2 1894V2005M781.7 1897V2020M783.2 1896V2017M784.7 1891V2002M786.2 1883V2000M787.7 1910V1978M789.2 1902V1987M790.7 1887V1988M792.2 1909V1991M793.7 1891V1991M795.2 1899V1986M796.7 1905V1973M798.2 1906V1974M799.7 1915V1974M801.2 1916V1973M802.7 1916V1973M804.2 1914V1976M805.7 1909V1980M807.2 1909V1987M808.7 1915V1990M810.2 1894V1996M811.7 1897V1988M813.2 1903V1975M814.7 1902V1980M816.2 1895V1988M817.7 1895V1988M819.2 1906V1989M820.7 1904V1991M822.2 1900V1992M823.7 1903V1990M825.2 1909V1995M826.7 1902V2000M828.2 1900V2003M829.7 1889V1989M831.2 1887V1987M832.7 1881V2006M834.2 1868V2006M835.7 1854V2036M837.2 1878V1990M838.7 1874V1992M840.2 1885V2019M841.7 1878V2016M843.2 1883V2007M844.7 1886V1983M846.2 1903V1996M847.7 1881V1993M849.2 1884V2010M850.7 1882V1978M852.2 1893V1985M853.7 1901V1984M855.2 1910V1988M856.7 1910V1994M858.2 1878V1993M859.7 1878V2012M861.2 1877V1986M862.7 1885V2006M864.2 1890V2010M865.7 1879V2007M867.2 1887V1998M868.7 1887V1998M870.2 1876V1995M871.7 1888V1993M873.2 1888V2000M874.7 1886V2003M876.2 1878V1998M877.7 1880V2000M879.2 1884V2005M880.7 1862V2010M882.2 1859V2031M883.7 1876V2004M885.2 1888V1992M886.7 1888V1984M888.2 1900V1993M889.7 1911V1979M891.2 1916V1973M892.7 1915V1975M894.2 1917V1977M895.7 1916V1977M897.2 1914V1979M898.7 1918V1977M900.2 1915V1977M901.7 1907V1978M903.2 1911V1975M904.7 1917V1983M906.2 1914V1988M907.7 1910V1983M909.2 1908V1985M910.7 1904V1980M912.2 1905V1987M913.7 1902V1981M915.2 1902V1975M916.7 1906V1982M918.2 1912V1983M919.7 1911V1988M921.2 1918V1991M922.7 1910V1989M924.2 1893V1972M925.7 1888V1995M927.2 1895V1996M928.7 1902V1977M930.2 1897V1978M931.7 1889V2006M933.2 1896V1977M934.7 1870V2020M936.2 1893V1995M937.7 1901V1994M939.2 1918V2000M940.7 1902V1983M942.2 1904V1979M943.7 1901V1981M945.2 1906V1970M946.7 1907V1976M948.2 1908V1978M949.7 1905V1981M951.2 1909V1982M952.7 1901V1994M954.2 1897V1988M955.7 1890V1982M957.2 1888V1992M958.7 1888V1999M960.2 1885V1991M961.7 1881V1986M963.2 1877V2013M964.7 1891V2000M966.2 1915V1968M967.7 1897V1990M969.2 1903V1986M970.7 1919V1979M972.2 1916V1973M973.7 1920V1968M975.2 1919V1968M976.7 1922V1969M978.2 1921V1969M979.7 1920V1971M981.2 1917V1974M982.7 1915V1975M984.2 1920V1977M985.7 1909V1978M987.2 1917V1982M988.7 1914V1971M990.2 1907V1969M991.7 1921V1977M993.2 1920V1985M994.7 1917V1983M996.2 1907V1980M997.7 1906V1988M999.2 1903V2004M1000.7 1901V2002M1002.2 1912V2001M1003.7 1879V2011M1005.2 1892V1995M1006.7 1888V1977M1008.2 1893V1995M1009.7 1902V1992M1011.2 1906V1978M1012.7 1901V1981M1014.2 1910V1982M1015.7 1911V1982M1017.2 1914V1983M1018.7 1914V1978M1020.2 1914V1981M1021.7 1908V1974M1023.2 1918V1969M1024.7 1917V1977M1026.2 1911V1980M1027.7 1909V1969M1029.2 1892V1978M1030.7 1900V1988M1032.2 1902V1970M1033.7 1919V1981M1035.2 1883V2007M1036.7 1894V1977M1038.2 1888V1988M1039.7 1889V1986M1041.2 1904V2001M1042.7 1892V1991M1044.2 1893V2000M1045.7 1908V1998M1047.2 1904V1995M1048.7 1897V2004M1050.2 1887V2003M1051.7 1899V2006M1053.2 1913V1985M1054.7 1906V2016M1056.2 1870V2020M1057.7 1877V1981M1059.2 1884V2007M1060.7 1896V2002M1062.2 1902V1993M1063.7 1904V1996M1065.2 1905V1983M1066.7 1914V1972M1068.2 1911V1970M1069.7 1920V1971M1071.2 1916V1973M1072.7 1918V1971M1074.2 1915V1977M1075.7 1912V1980M1077.2 1910V1980M1078.7 1913V1981M1080.2 1918V1984M1081.7 1912V1970M1083.2 1899V1991M1084.7 1913V1980M1086.2 1916V1973M1087.7 1917V1980M1089.2 1912V1977M1090.7 1912V1979M1092.2 1911V1975M1093.7 1914V1979M1095.2 1906V1984M1096.7 1909V1975M1098.2 1908V1972M1099.7 1906V1967M1101.2 1910V1984M1102.7 1915V1973M1104.2 1922V1979M1105.7 1905V1975M1107.2 1906V1980M1108.7 1903V1981M1110.2 1918V1978M1111.7 1910V1983M1113.2 1903V1987M1114.7 1916V1979M1116.2 1902V1980M1117.7 1903V1985M1119.2 1904V1999M1120.7 1896V1986M1122.2 1894V2000M1123.7 1884V2000M1125.2 1881V1988M1126.7 1877V2013M1128.2 1905V1993M1129.7 1886V1995M1131.2 1907V1983M1132.7 1893V1980M1134.2 1912V1980M1135.7 1892V1997M1137.2 1900V1989M1138.7 1905V1994M1140.2 1896V1987M1141.7 1902V1986M1143.2 1911V1988M1144.7 1906V1984M1146.2 1907V1968M1147.7 1910V1981M1149.2 1911V1973M1150.7 1918V1973M1152.2 1913V1975M1153.7 1914V1970M1155.2 1911V1974M1156.7 1913V1979M1158.2 1911V1985M1159.7 1921V1982M1161.2 1912V1973M1162.7 1903V1981M1164.2 1899V1991M1165.7 1918V1985M1167.2 1900V1989M1168.7 1901V1984M1170.2 1908V1984M1171.7 1921V1983M1173.2 1902V1970M1174.7 1917V1974M1176.2 1911V1983M1177.7 1917V1982M1179.2 1908V1984M1180.7 1899V1994M1182.2 1913V1996M1183.7 1902V1996M1185.2 1913V1980M1186.7 1898V2001M1188.2 1885V2003M1189.7 1897V2011M1191.2 1859V2031M1192.7 1916V2002M1194.2 1885V2005M1195.7 1903V1998M1197.2 1909V1997M1198.7 1903V1992M1200.2 1917V1994M1201.7 1913V1981M1203.2 1904V1983M1204.7 1909V1970M1206.2 1906V1975M1207.7 1904V1988M1209.2 1906V1985M1210.7 1907V1985M1212.2 1910V1978M1213.7 1914V1976M1215.2 1912V1976M1216.7 1917V1985M1218.2 1915V1976M1219.7 1906V1976M1221.2 1902V1980M1222.7 1907V1981M1224.2 1909V1991M1225.7 1912V1981M1227.2 1913V1995M1228.7 1908V1988M1230.2 1907V1996M1231.7 1892V1976M1233.2 1891V1975M1234.7 1903V1979M1236.2 1902V1987M1237.7 1899V1990M1239.2 1885V2005M1240.7 1907V1987M1242.2 1912V1971M1243.7 1893V1975M1245.2 1902V1971M1246.7 1906V1978M1248.2 1920V1981M1249.7 1912V1991M1251.2 1909V1970M1252.7 1904V1973M1254.2 1909V1971M1255.7 1917V1982M1257.2 1911V1980M1258.7 1907V1980M1260.2 1904V1980M1261.7 1911V1991M1263.2 1899V1985M1264.7 1917V1971M1266.2 1915V1982M1267.7 1902V1980M1269.2 1894V1983M1270.7 1915V1997M1272.2 1912V1995M1273.7 1904V1984M1275.2 1898V1981M1276.7 1898V1970M1278.2 1918V1974M1279.7 1890V2000M1281.2 1894V1988M1282.7 1917V1979M1284.2 1896V1975M1285.7 1900V1978M1287.2 1902V1976M1288.7 1903V1982M1290.2 1919V1983M1291.7 1907V1980M1293.2 1905V1980M1294.7 1910V1988M1296.2 1904V1985M1297.7 1907V1987M1299.2 1905V1980M1300.7 1909V1995M1302.2 1900V1989M1303.7 1903V1993M1305.2 1909V1983M1306.7 1899V1992M1308.2 1912V2010M1309.7 1905V2004M1311.2 1906V1984M1312.7 1885V1984M1314.2 1886V1996M1315.7 1874V1998M1317.2 1879V2017M1318.7 1898V2009M1320.2 1899V2009M1321.7 1892V1992M1323.2 1884V2007M1324.7 1882V2007M1326.2 1889V1991M1327.7 1870V2020M1329.2 1883V1989M1330.7 1884V1999M1332.2 1877V1978M1333.7 1900V1996M1335.2 1913V1988M1336.7 1917V1981M1338.2 1901V1978M1339.7 1897V2000M1341.2 1895V1996M1342.7 1908V1994M1344.2 1903V1990M1345.7 1905V1994M1347.2 1907V1975M1348.7 1912V1992M1350.2 1905V1983M1351.7 1904V1987M1353.2 1909V1976M1354.7 1919V1977M1356.2 1904V1973M1357.7 1912V1976M1359.2 1908V1979M1360.7 1912V1986M1362.2 1901V1974M1363.7 1907V1988M1365.2 1906V1981M1366.7 1910V1981M1368.2 1906V1983M1369.7 1901V1986M1371.2 1912V1985M1372.7 1906V1990M1374.2 1909V1986M1375.7 1904V1992M1377.2 1905V1999M1378.7 1908V1979M1380.2 1900V2004M1381.7 1915V2002M1383.2 1903V2001M1384.7 1877V2013M1386.2 1894V1985M1387.7 1899V1979M1389.2 1895V1994M1390.7 1889V1996M1392.2 1891V1996M1393.7 1898V1996M1395.2 1912V1985M1396.7 1904V1977M1398.2 1921V1984M1399.7 1917V1978M1401.2 1919V1989M1402.7 1908V1973M1404.2 1898V1991M1405.7 1917V1991M1407.2 1911V1995M1408.7 1914V1988M1410.2 1910V1984M1411.7 1890V2000M1413.2 1915V1991M1414.7 1905V1991M1416.2 1898V1983M1417.7 1900V1972M1419.2 1913V1981M1420.7 1897V1992M1422.2 1897V1980M1423.7 1921V1994M1425.2 1913V1978M1426.7 1899V1979M1428.2 1921V1985M1429.7 1921V1971M1431.2 1901V1973M1432.7 1906V1977M1434.2 1909V1981M1435.7 1908V1979M1437.2 1917V1980M1438.7 1908V1986M1440.2 1901V1983M1441.7 1897V1971M1443.2 1897V1972M1444.7 1896V1988M1446.2 1901V1995M1447.7 1906V1982M1449.2 1919V1988M1450.7 1894V1975M1452.2 1893V1992M1453.7 1918V1989M1455.2 1915V2000M1456.7 1888V1994M1458.2 1898V1998M1459.7 1914V2002M1461.2 1913V2005M1462.7 1883V2007M1464.2 1884V1986M1465.7 1913V2005M1467.2 1887V1983M1468.7 1893V1997M1470.2 1911V2001M1471.7 1893V1998M1473.2 1892V1999M1474.7 1892V1994M1476.2 1883V2007M1477.7 1897V1996M1479.2 1894V1999M1480.7 1911V1979M1482.2 1912V1980M1483.7 1900V1978M1485.2 1898V1983M1486.7 1902V1978M1488.2 1907V1978M1489.7 1916V1978M1491.2 1901V1986M1492.7 1903V1982M1494.2 1910V1980M1495.7 1919V1977M1497.2 1917V1978M1498.7 1918V1975M1500.2 1916V1977M1501.7 1911V1980M1503.2 1917V1965M1504.7 1920V1976M1506.2 1917V1968M1507.7 1918V1968M1509.2 1921V1969" stroke="#F95206" stroke-width="2.0" fill="none"/>
<text x="214.3" y="1455.3" text-anchor="end" font-size="39.8">0.015</text>
<text x="214.3" y="1623.6" text-anchor="end" font-size="39.8">0.01</text>
<text x="214.3" y="1792.0" text-anchor="end" font-size="39.8">0.005</text>
<text x="214.3" y="1960.3" text-anchor="end" font-size="39.8">0</text>
<text x="214.3" y="2128.6" text-anchor="end" font-size="39.8">-0.005</text>
<text x="214.3" y="2297.0" text-anchor="end" font-size="39.8">-0.01</text>
<text x="214.3" y="2465.3" text-anchor="end" font-size="39.8">-0.015</text>
<text x="228.7" y="2505.3" text-anchor="middle" font-size="39.0">0</text>
<text x="371.1" y="2505.3" text-anchor="middle" font-size="39.0">2</text>
<text x="513.5" y="2505.3" text-anchor="middle" font-size="39.0">4</text>
<text x="655.9" y="2505.3" text-anchor="middle" font-size="39.0">6</text>
<text x="798.3" y="2505.3" text-anchor="middle" font-size="39.0">8</text>
<text x="940.8" y="2505.3" text-anchor="middle" font-size="39.0">10</text>
<text x="1083.2" y="2505.3" text-anchor="middle" font-size="39.0">12</text>
<text x="1225.6" y="2505.3" text-anchor="middle" font-size="39.0">14</text>
<text x="1368.0" y="2505.3" text-anchor="middle" font-size="39.0">16</text>
<text x="1510.4" y="2505.3" text-anchor="middle" font-size="39.0">18</text>
<text x="869.8" y="2566.1" text-anchor="middle" font-size="47.5">t (s)</text>
<text transform="translate(79.1,1945.0) rotate(-90)" text-anchor="middle" font-size="47.5">acceleration (m/s<tspan dy="-23.7" font-size="35">2</tspan><tspan dy="23.7">)</tspan></text>
<rect x="1221.6" y="1478.2" width="253.6" height="127.6" fill="#fff"/><rect x="1221.60" y="1478.20" width="251.60" height="1.7" fill="#262626"/><rect x="1221.60" y="1478.20" width="1.7" height="127.60" fill="#262626"/><rect x="1473.20" y="1478.60" width="2.0" height="125.20" fill="#5c5c5c"/><rect x="1471.50" y="1478.20" width="1.8" height="127.60" fill="#262626"/><rect x="1221.60" y="1602.60" width="251.70" height="3.2" fill="#262626"/>
<path d="M1474.2 1565.0V1607.0" stroke="#0073C3" stroke-width="2" fill="none"/>
<path d="M1245.3 1517.6H1363.6" stroke="#0073C3" stroke-width="3.4"/>
<path d="M1245.3 1573.6H1363.6" stroke="#F95206" stroke-width="2.4"/>
<text class="lg" x="1375.6" y="1523.6" font-size="35.5">a<tspan dx="1.0" dy="17.5" font-size="27.0">y</tspan></text>
<text class="lg" x="1375.6" y="1588.1" font-size="35.5">noise</text>
<text class="cap" transform="translate(840.6,2702.2) scale(0.980,1)" text-anchor="middle"><tspan class="par">(</tspan><tspan class="let">b</tspan><tspan class="par">)</tspan></text>
<path d="M371.31 2854.0V3864.0M513.72 2854.0V3864.0M656.13 2854.0V3864.0M798.54 2854.0V3864.0M940.96 2854.0V3864.0M1083.37 2854.0V3864.0M1225.78 2854.0V3864.0M1368.19 2854.0V3864.0M228.9 3022.33H1510.6M228.9 3190.67H1510.6M228.9 3359.00H1510.6M228.9 3527.33H1510.6M228.9 3695.67H1510.6" stroke="#262626" stroke-opacity="0.14" stroke-width="1.5" fill="none"/>
<path d="M228.90 3864.0v-12.0M228.90 2854.0v12.0M371.31 3864.0v-12.0M371.31 2854.0v12.0M513.72 3864.0v-12.0M513.72 2854.0v12.0M656.13 3864.0v-12.0M656.13 2854.0v12.0M798.54 3864.0v-12.0M798.54 2854.0v12.0M940.96 3864.0v-12.0M940.96 2854.0v12.0M1083.37 3864.0v-12.0M1083.37 2854.0v12.0M1225.78 3864.0v-12.0M1225.78 2854.0v12.0M1368.19 3864.0v-12.0M1368.19 2854.0v12.0M1510.60 3864.0v-12.0M1510.60 2854.0v12.0M228.9 2854.00h12.0M1510.6 2854.00h-12.0M228.9 3022.33h12.0M1510.6 3022.33h-12.0M228.9 3190.67h12.0M1510.6 3190.67h-12.0M228.9 3359.00h12.0M1510.6 3359.00h-12.0M228.9 3527.33h12.0M1510.6 3527.33h-12.0M228.9 3695.67h12.0M1510.6 3695.67h-12.0M228.9 3864.00h12.0M1510.6 3864.00h-12.0" stroke="#262626" stroke-width="1.6" fill="none"/>
<rect x="228.70" y="2853.40" width="1282.20" height="1.7" fill="#262626"/><rect x="228.70" y="2853.40" width="1.7" height="1012.80" fill="#262626"/><rect x="1510.90" y="2853.80" width="2.0" height="1010.40" fill="#5c5c5c"/><rect x="1509.20" y="2853.40" width="1.8" height="1012.80" fill="#262626"/><rect x="228.70" y="3863.00" width="1282.30" height="3.2" fill="#262626"/>
<path d="M229.7 2977V3671M231.2 3032V3685M232.7 3061V3686M234.2 3016V3645M235.7 3019V3672M237.2 2995V3715M238.7 3014V3719M240.2 2956V3707M241.7 3084V3723M243.2 2960V3604M244.7 3005V3608M246.2 2997V3707M247.7 3002V3757M249.2 3036V3699M250.7 2956V3737M252.2 2961V3570M253.7 2963V3711M255.2 3061V3698M256.7 3027V3669M258.2 3026V3714M259.7 3019V3689M261.2 3101V3734M262.7 3031V3692M264.2 3015V3709M265.7 3044V3663M267.2 3053V3608M268.7 3052V3538M270.2 3073V3572M271.7 3085V3614M273.2 3095V3609M274.7 3121V3591M276.2 3157V3558M277.7 3111V3568M279.2 3125V3566M280.7 3097V3587M282.2 3102V3617M283.7 3096V3636M285.2 3158V3635M286.7 3129V3637M288.2 3113V3666M289.7 3089V3664M291.2 3095V3680M292.7 3084V3601M294.2 3175V3621M295.7 3117V3675M297.2 3085V3669M298.7 3091V3563M300.2 3179V3546M301.7 3157V3596M303.2 3139V3654M304.7 3146V3597M306.2 3144V3613M307.7 3136V3599M309.2 3128V3597M310.7 3107V3593M312.2 3083V3612M313.7 3082V3623M315.2 3086V3636M316.7 3089V3555M318.2 3081V3597M319.7 3089V3662M321.2 3106V3633M322.7 3061V3638M324.2 3129V3597M325.7 3154V3648M327.2 3189V3637M328.7 3091V3645M330.2 3094V3675M331.7 3075V3647M333.2 3067V3670M334.7 3150V3671M336.2 3076V3698M337.7 3074V3684M339.2 3009V3715M340.7 3042V3678M342.2 3079V3674M343.7 3036V3593M345.2 3053V3610M346.7 3145V3609M348.2 3133V3634M349.7 3139V3610M351.2 3132V3577M352.7 3182V3626M354.2 3127V3546M355.7 3132V3629M357.2 3050V3611M358.7 3095V3541M360.2 3053V3559M361.7 3077V3618M363.2 3051V3618M364.7 3167V3558M366.2 3079V3551M367.7 3086V3614M369.2 3076V3603M370.7 3079V3592M372.2 3112V3594M373.7 3118V3592M375.2 3081V3595M376.7 3068V3575M378.2 3024V3645M379.7 3019V3647M381.2 3075V3539M382.7 3054V3696M384.2 2987V3727M385.7 3129V3662M387.2 3029V3670M388.7 2984V3736M390.2 3029V3595M391.7 3015V3781M393.2 3021V3770M394.7 3003V3608M396.2 3003V3768M397.7 3008V3637M399.2 3009V3706M400.7 2984V3683M402.2 2994V3698M403.7 3113V3576M405.2 3022V3712M406.7 3043V3725M408.2 3036V3708M409.7 3146V3606M411.2 3096V3689M412.7 3076V3706M414.2 3094V3645M415.7 3105V3633M417.2 3102V3660M418.7 3090V3596M420.2 3082V3576M421.7 3066V3626M423.2 3103V3558M424.7 3099V3593M426.2 3111V3536M427.7 3080V3598M429.2 3156V3623M430.7 3146V3638M432.2 3172V3629M433.7 3015V3557M435.2 3061V3590M436.7 3020V3663M438.2 3072V3636M439.7 3036V3671M441.2 3029V3631M442.7 3180V3637M444.2 3152V3611M445.7 3022V3620M447.2 3042V3643M448.7 3051V3620M450.2 3078V3616M451.7 3088V3618M453.2 3031V3607M454.7 3070V3618M456.2 3068V3556M457.7 3036V3636M459.2 3127V3649M460.7 3071V3625M462.2 3083V3641M463.7 3099V3628M465.2 3099V3680M466.7 3147V3662M468.2 3094V3564M469.7 3098V3631M471.2 3143V3652M472.7 3067V3630M474.2 3074V3599M475.7 3056V3615M477.2 3042V3583M478.7 3143V3601M480.2 3104V3628M481.7 3095V3594M483.2 3129V3644M484.7 3122V3623M486.2 3100V3545M487.7 3130V3583M489.2 3137V3635M490.7 3155V3608M492.2 3132V3555M493.7 3118V3597M495.2 3135V3628M496.7 3101V3643M498.2 3101V3538M499.7 3071V3703M501.2 3088V3674M502.7 3000V3676M504.2 3037V3698M505.7 2958V3719M507.2 3123V3750M508.7 2969V3744M510.2 3040V3691M511.7 3075V3708M513.2 2969V3722M514.7 2988V3671M516.2 3024V3644M517.7 2991V3661M519.2 2994V3587M520.7 3045V3715M522.2 3043V3698M523.7 3006V3668M525.2 3019V3661M526.7 3069V3549M528.2 3056V3542M529.7 3083V3602M531.2 3086V3662M532.7 3075V3602M534.2 3164V3586M535.7 3138V3659M537.2 3071V3651M538.7 3064V3630M540.2 3152V3637M541.7 3147V3636M543.2 3049V3646M544.7 3006V3542M546.2 3150V3600M547.7 3132V3641M549.2 2973V3691M550.7 3149V3637M552.2 2991V3661M553.7 3013V3691M555.2 3012V3752M556.7 3077V3677M558.2 3013V3701M559.7 3150V3585M561.2 3102V3611M562.7 3032V3590M564.2 3077V3622M565.7 3121V3600M567.2 3137V3608M568.7 3140V3581M570.2 3143V3559M571.7 3157V3562M573.2 3129V3543M574.7 3131V3563M576.2 3137V3557M577.7 3106V3567M579.2 3130V3585M580.7 3116V3580M582.2 3130V3527M583.7 3127V3604M585.2 3131V3610M586.7 3162V3601M588.2 3079V3554M589.7 3167V3629M591.2 3137V3643M592.7 3137V3626M594.2 3075V3655M595.7 3042V3571M597.2 3099V3619M598.7 3079V3633M600.2 3076V3626M601.7 3096V3638M603.2 3079V3625M604.7 3075V3657M606.2 3088V3624M607.7 3110V3677M609.2 3076V3646M610.7 3062V3675M612.2 3069V3662M613.7 3051V3644M615.2 3029V3613M616.7 3060V3633M618.2 3106V3543M619.7 3099V3540M621.2 3015V3641M622.7 3028V3627M624.2 3032V3624M625.7 3157V3626M627.2 3169V3653M628.7 3116V3620M630.2 3029V3536M631.7 3017V3540M633.2 3064V3571M634.7 3108V3576M636.2 3065V3591M637.7 3102V3615M639.2 3116V3575M640.7 3105V3580M642.2 3158V3597M643.7 3152V3571M645.2 3144V3549M646.7 3138V3604M648.2 3052V3608M649.7 3063V3599M651.2 3064V3593M652.7 3028V3613M654.2 3049V3594M655.7 3028V3598M657.2 3094V3615M658.7 3040V3629M660.2 3039V3633M661.7 3025V3598M663.2 3003V3604M664.7 3124V3588M666.2 3072V3560M667.7 3076V3598M669.2 2979V3645M670.7 3027V3669M672.2 3032V3688M673.7 3074V3567M675.2 3025V3530M676.7 3130V3588M678.2 3065V3596M679.7 3062V3566M681.2 3032V3571M682.7 3065V3608M684.2 3041V3593M685.7 3024V3554M687.2 3044V3574M688.7 3029V3600M690.2 3070V3626M691.7 3128V3629M693.2 3124V3620M694.7 3130V3620M696.2 3060V3597M697.7 3096V3616M699.2 3158V3630M700.7 3048V3677M702.2 3080V3571M703.7 3079V3608M705.2 3061V3553M706.7 3071V3579M708.2 3090V3525M709.7 3082V3634M711.2 3153V3624M712.7 3120V3605M714.2 3122V3568M715.7 3134V3566M717.2 3143V3547M718.7 3153V3570M720.2 3160V3576M721.7 3120V3605M723.2 3110V3552M724.7 3165V3587M726.2 3147V3550M727.7 3133V3588M729.2 3124V3593M730.7 3144V3519M732.2 3154V3620M733.7 3144V3624M735.2 3193V3613M736.7 3180V3627M738.2 3124V3590M739.7 3150V3607M741.2 3129V3576M742.7 3121V3585M744.2 3145V3589M745.7 3071V3611M747.2 3051V3603M748.7 3042V3597M750.2 3082V3555M751.7 3042V3565M753.2 3055V3568M754.7 3104V3535M756.2 3178V3587M757.7 3028V3615M759.2 3052V3650M760.7 3051V3680M762.2 3163V3636M763.7 2993V3616M765.2 3173V3563M766.7 3134V3625M768.2 3063V3551M769.7 3065V3576M771.2 3083V3642M772.7 3077V3609M774.2 3093V3574M775.7 3131V3567M777.2 3123V3577M778.7 3151V3575M780.2 3151V3568M781.7 3160V3558M783.2 3165V3540M784.7 3159V3552M786.2 3176V3560M787.7 3114V3565M789.2 3119V3577M790.7 3116V3584M792.2 3116V3619M793.7 3069V3626M795.2 3074V3631M796.7 3066V3609M798.2 3110V3615M799.7 3059V3561M801.2 3124V3662M802.7 3125V3564M804.2 3085V3596M805.7 3079V3612M807.2 3081V3620M808.7 3142V3578M810.2 3129V3613M811.7 3067V3583M813.2 3077V3572M814.7 3104V3590M816.2 3098V3572M817.7 3085V3566M819.2 3078V3571M820.7 3118V3519M822.2 3061V3542M823.7 3100V3626M825.2 3105V3615M826.7 3079V3645M828.2 3038V3681M829.7 3026V3666M831.2 3030V3558M832.7 3038V3676M834.2 3002V3663M835.7 2986V3672M837.2 2916V3739M838.7 2980V3666M840.2 2991V3682M841.7 3069V3625M843.2 3081V3632M844.7 3031V3639M846.2 3117V3646M847.7 3101V3583M849.2 3080V3602M850.7 3087V3628M852.2 3082V3559M853.7 3060V3584M855.2 3082V3622M856.7 3100V3619M858.2 3097V3566M859.7 3085V3628M861.2 3077V3624M862.7 3097V3632M864.2 3145V3561M865.7 3062V3617M867.2 3075V3642M868.7 3127V3638M870.2 3107V3623M871.7 3112V3610M873.2 3086V3625M874.7 3030V3565M876.2 3011V3600M877.7 3076V3618M879.2 3062V3578M880.7 3070V3655M882.2 3174V3671M883.7 3042V3632M885.2 3167V3631M886.7 3052V3625M888.2 3166V3612M889.7 3093V3626M891.2 3082V3542M892.7 3126V3618M894.2 3107V3548M895.7 3143V3573M897.2 3131V3590M898.7 3124V3589M900.2 3135V3630M901.7 3091V3643M903.2 3065V3629M904.7 3158V3657M906.2 3166V3619M907.7 3030V3547M909.2 3110V3714M910.7 3076V3716M912.2 3023V3682M913.7 3052V3695M915.2 2984V3772M916.7 3025V3713M918.2 3019V3663M919.7 3176V3638M921.2 3021V3696M922.7 3071V3694M924.2 3025V3651M925.7 3081V3663M927.2 3076V3672M928.7 3113V3614M930.2 3095V3619M931.7 3085V3619M933.2 3104V3606M934.7 3089V3569M936.2 3103V3562M937.7 3162V3603M939.2 3164V3599M940.7 3079V3575M942.2 3072V3608M943.7 3070V3682M945.2 3077V3607M946.7 3070V3583M948.2 3062V3693M949.7 3099V3670M951.2 3105V3620M952.7 3056V3599M954.2 3079V3643M955.7 3060V3599M957.2 3057V3628M958.7 3098V3565M960.2 3053V3639M961.7 3062V3535M963.2 3146V3571M964.7 3083V3609M966.2 3102V3596M967.7 3116V3570M969.2 3132V3555M970.7 3167V3542M972.2 3148V3546M973.7 3127V3571M975.2 3074V3578M976.7 3086V3548M978.2 3107V3554M979.7 3073V3573M981.2 3073V3605M982.7 3109V3538M984.2 3146V3550M985.7 3155V3571M987.2 3139V3580M988.7 3109V3598M990.2 3122V3537M991.7 3152V3576M993.2 3105V3599M994.7 3101V3578M996.2 3074V3583M997.7 3118V3580M999.2 3066V3564M1000.7 3134V3573M1002.2 3084V3595M1003.7 3123V3616M1005.2 3112V3653M1006.7 3085V3663M1008.2 3034V3700M1009.7 3003V3698M1011.2 3118V3694M1012.7 3114V3659M1014.2 3057V3656M1015.7 3020V3749M1017.2 3084V3841M1018.7 2958V3688M1020.2 2995V3822M1021.7 3008V3779M1023.2 2914V3646M1024.7 2952V3737M1026.2 2951V3698M1027.7 3010V3696M1029.2 2999V3721M1030.7 3001V3724M1032.2 3146V3705M1033.7 2983V3732M1035.2 2973V3617M1036.7 3062V3610M1038.2 3028V3661M1039.7 3064V3634M1041.2 3147V3630M1042.7 3090V3619M1044.2 3148V3633M1045.7 3096V3625M1047.2 3090V3619M1048.7 3166V3640M1050.2 3159V3643M1051.7 3105V3656M1053.2 3123V3629M1054.7 3154V3604M1056.2 3156V3670M1057.7 3141V3621M1059.2 3132V3686M1060.7 3134V3646M1062.2 3131V3657M1063.7 3186V3659M1065.2 3173V3620M1066.7 3146V3610M1068.2 3158V3620M1069.7 3171V3627M1071.2 3186V3597M1072.7 3182V3588M1074.2 3160V3580M1075.7 3179V3560M1077.2 3165V3574M1078.7 3164V3579M1080.2 3153V3552M1081.7 3115V3581M1083.2 3119V3613M1084.7 3123V3628M1086.2 3108V3639M1087.7 3121V3601M1089.2 3104V3669M1090.7 3108V3695M1092.2 3092V3737M1093.7 3138V3571M1095.2 3113V3532M1096.7 3111V3619M1098.2 3123V3656M1099.7 3124V3654M1101.2 3164V3550M1102.7 3197V3622M1104.2 3180V3620M1105.7 3171V3579M1107.2 3170V3579M1108.7 3180V3536M1110.2 3165V3555M1111.7 3142V3587M1113.2 3197V3601M1114.7 3129V3634M1116.2 3117V3589M1117.7 3069V3692M1119.2 3084V3669M1120.7 3086V3565M1122.2 3100V3670M1123.7 3070V3657M1125.2 3032V3689M1126.7 3032V3773M1128.2 2979V3612M1129.7 3050V3644M1131.2 3038V3649M1132.7 3191V3643M1134.2 3177V3685M1135.7 3145V3691M1137.2 3163V3644M1138.7 3145V3668M1140.2 3165V3638M1141.7 3178V3635M1143.2 3184V3580M1144.7 3129V3588M1146.2 3140V3600M1147.7 3106V3613M1149.2 3095V3657M1150.7 3082V3577M1152.2 3061V3693M1153.7 3072V3624M1155.2 3024V3675M1156.7 3038V3703M1158.2 3034V3621M1159.7 3057V3643M1161.2 3042V3743M1162.7 2948V3767M1164.2 2974V3810M1165.7 2986V3745M1167.2 3025V3714M1168.7 3025V3769M1170.2 3063V3737M1171.7 3031V3670M1173.2 3059V3705M1174.7 3048V3640M1176.2 3065V3665M1177.7 3139V3655M1179.2 3099V3633M1180.7 3099V3618M1182.2 3095V3596M1183.7 3168V3586M1185.2 3151V3586M1186.7 3134V3595M1188.2 3171V3606M1189.7 3174V3548M1191.2 3206V3572M1192.7 3202V3582M1194.2 3181V3624M1195.7 3136V3627M1197.2 3132V3562M1198.7 3169V3596M1200.2 3151V3554M1201.7 3119V3610M1203.2 3140V3599M1204.7 3122V3598M1206.2 3131V3591M1207.7 3156V3580M1209.2 3174V3588M1210.7 3168V3578M1212.2 3166V3570M1213.7 3167V3559M1215.2 3184V3537M1216.7 3185V3539M1218.2 3168V3549M1219.7 3149V3561M1221.2 3191V3524M1222.7 3169V3532M1224.2 3192V3612M1225.7 3116V3641M1227.2 3122V3586M1228.7 3111V3604M1230.2 3159V3605M1231.7 3157V3624M1233.2 3116V3625M1234.7 3110V3603M1236.2 3127V3607M1237.7 3086V3631M1239.2 3094V3588M1240.7 3133V3614M1242.2 3080V3633M1243.7 3124V3634M1245.2 3085V3636M1246.7 3077V3571M1248.2 3144V3693M1249.7 3084V3651M1251.2 3081V3608M1252.7 3176V3609M1254.2 3116V3666M1255.7 3088V3659M1257.2 3132V3618M1258.7 3084V3617M1260.2 3114V3577M1261.7 3178V3602M1263.2 3148V3601M1264.7 3154V3590M1266.2 3159V3584M1267.7 3166V3582M1269.2 3188V3604M1270.7 3174V3583M1272.2 3192V3529M1273.7 3184V3561M1275.2 3192V3578M1276.7 3120V3587M1278.2 3126V3661M1279.7 3113V3641M1281.2 3119V3637M1282.7 3136V3585M1284.2 3086V3680M1285.7 3136V3589M1287.2 3124V3599M1288.7 3098V3625M1290.2 3114V3637M1291.7 3182V3626M1293.2 3117V3613M1294.7 3115V3556M1296.2 3145V3570M1297.7 3145V3616M1299.2 3146V3582M1300.7 3150V3578M1302.2 3163V3565M1303.7 3179V3569M1305.2 3187V3549M1306.7 3196V3561M1308.2 3190V3511M1309.7 3192V3594M1311.2 3162V3610M1312.7 3162V3614M1314.2 3148V3618M1315.7 3219V3571M1317.2 3128V3587M1318.7 3141V3583M1320.2 3150V3556M1321.7 3127V3591M1323.2 3161V3573M1324.7 3134V3569M1326.2 3075V3588M1327.7 3180V3579M1329.2 3141V3601M1330.7 3177V3543M1332.2 3153V3506M1333.7 3119V3620M1335.2 3146V3613M1336.7 3156V3622M1338.2 3169V3601M1339.7 3182V3587M1341.2 3168V3604M1342.7 3177V3575M1344.2 3146V3572M1345.7 3167V3546M1347.2 3158V3559M1348.7 3150V3574M1350.2 3147V3561M1351.7 3133V3503M1353.2 3152V3535M1354.7 3137V3554M1356.2 3115V3588M1357.7 3142V3573M1359.2 3179V3531M1360.7 3121V3602M1362.2 3192V3560M1363.7 3106V3573M1365.2 3115V3517M1366.7 3190V3599M1368.2 3171V3605M1369.7 3200V3522M1371.2 3166V3511M1372.7 3171V3548M1374.2 3176V3589M1375.7 3179V3613M1377.2 3155V3512M1378.7 3141V3518M1380.2 3141V3554M1381.7 3192V3545M1383.2 3112V3576M1384.7 3137V3581M1386.2 3125V3581M1387.7 3149V3569M1389.2 3097V3518M1390.7 3202V3582M1392.2 3178V3579M1393.7 3148V3580M1395.2 3155V3585M1396.7 3107V3591M1398.2 3111V3611M1399.7 3117V3677M1401.2 3131V3648M1402.7 3061V3662M1404.2 3082V3635M1405.7 3084V3673M1407.2 3111V3685M1408.7 3031V3638M1410.2 3040V3755M1411.7 3189V3716M1413.2 3077V3655M1414.7 3072V3630M1416.2 3109V3662M1417.7 3116V3652M1419.2 3133V3591M1420.7 3120V3535M1422.2 3100V3647M1423.7 3130V3590M1425.2 3130V3559M1426.7 3152V3606M1428.2 3210V3566M1429.7 3197V3579M1431.2 3208V3544M1432.7 3202V3554M1434.2 3215V3534M1435.7 3200V3521M1437.2 3184V3512M1438.7 3172V3503M1440.2 3179V3507M1441.7 3206V3513M1443.2 3154V3516M1444.7 3203V3503M1446.2 3175V3508M1447.7 3174V3513M1449.2 3184V3514M1450.7 3221V3512M1452.2 3217V3519M1453.7 3218V3515M1455.2 3217V3538M1456.7 3216V3543M1458.2 3217V3516M1459.7 3172V3525M1461.2 3162V3571M1462.7 3145V3579M1464.2 3128V3542M1465.7 3118V3565M1467.2 3120V3542M1468.7 3184V3613M1470.2 3090V3623M1471.7 3077V3614M1473.2 3037V3585M1474.7 3068V3593M1476.2 3091V3551M1477.7 3059V3585M1479.2 3073V3585M1480.7 3107V3627M1482.2 3097V3568M1483.7 3098V3663M1485.2 3113V3708M1486.7 3107V3625M1488.2 3156V3658M1489.7 3126V3614M1491.2 3152V3600M1492.7 3150V3581M1494.2 3177V3629M1495.7 3195V3625M1497.2 3213V3581M1498.7 3189V3566M1500.2 3189V3578M1501.7 3227V3582M1503.2 3158V3616M1504.7 3170V3632M1506.2 3226V3623M1507.7 3207V3623M1509.2 3154V3644" stroke="#0073C3" stroke-width="2.0" fill="none"/>
<path d="M229.7 3346V3373M231.2 3343V3374M232.7 3342V3375M234.2 3342V3375M235.7 3343V3380M237.2 3344V3373M238.7 3342V3376M240.2 3338V3381M241.7 3345V3380M243.2 3345V3382M244.7 3337V3378M246.2 3334V3380M247.7 3340V3384M249.2 3337V3376M250.7 3334V3380M252.2 3333V3384M253.7 3328V3389M255.2 3326V3392M256.7 3332V3388M258.2 3335V3385M259.7 3339V3387M261.2 3333V3382M262.7 3331V3389M264.2 3338V3387M265.7 3338V3385M267.2 3337V3384M268.7 3340V3381M270.2 3343V3388M271.7 3340V3380M273.2 3338V3381M274.7 3340V3385M276.2 3335V3376M277.7 3336V3388M279.2 3331V3381M280.7 3336V3386M282.2 3339V3383M283.7 3335V3383M285.2 3330V3383M286.7 3332V3376M288.2 3330V3385M289.7 3333V3383M291.2 3328V3390M292.7 3335V3380M294.2 3340V3382M295.7 3342V3375M297.2 3343V3386M298.7 3342V3385M300.2 3338V3375M301.7 3337V3374M303.2 3338V3379M304.7 3338V3378M306.2 3334V3376M307.7 3336V3376M309.2 3336V3378M310.7 3336V3378M312.2 3339V3382M313.7 3334V3382M315.2 3341V3381M316.7 3334V3384M318.2 3334V3384M319.7 3331V3387M321.2 3341V3387M322.7 3337V3387M324.2 3337V3385M325.7 3331V3384M327.2 3333V3388M328.7 3338V3386M330.2 3329V3389M331.7 3321V3397M333.2 3328V3391M334.7 3327V3387M336.2 3339V3386M337.7 3332V3389M339.2 3330V3383M340.7 3334V3384M342.2 3335V3383M343.7 3339V3375M345.2 3337V3378M346.7 3340V3383M348.2 3334V3385M349.7 3335V3375M351.2 3344V3379M352.7 3340V3385M354.2 3332V3382M355.7 3335V3386M357.2 3330V3388M358.7 3339V3380M360.2 3339V3376M361.7 3337V3387M363.2 3331V3377M364.7 3341V3380M366.2 3337V3380M367.7 3335V3384M369.2 3335V3379M370.7 3333V3383M372.2 3335V3375M373.7 3332V3377M375.2 3339V3382M376.7 3336V3380M378.2 3337V3384M379.7 3338V3381M381.2 3336V3378M382.7 3336V3378M384.2 3344V3380M385.7 3340V3381M387.2 3343V3381M388.7 3341V3383M390.2 3337V3381M391.7 3340V3382M393.2 3339V3381M394.7 3338V3379M396.2 3337V3377M397.7 3331V3379M399.2 3332V3379M400.7 3334V3381M402.2 3340V3382M403.7 3338V3384M405.2 3335V3384M406.7 3332V3385M408.2 3335V3387M409.7 3332V3387M411.2 3336V3387M412.7 3328V3380M414.2 3326V3392M415.7 3329V3385M417.2 3328V3388M418.7 3330V3389M420.2 3328V3391M421.7 3333V3392M423.2 3332V3389M424.7 3329V3385M426.2 3331V3387M427.7 3326V3392M429.2 3330V3380M430.7 3332V3385M432.2 3339V3390M433.7 3332V3381M435.2 3338V3386M436.7 3330V3381M438.2 3338V3379M439.7 3336V3382M441.2 3334V3375M442.7 3339V3378M444.2 3335V3383M445.7 3338V3379M447.2 3340V3379M448.7 3334V3379M450.2 3335V3374M451.7 3337V3379M453.2 3333V3384M454.7 3335V3373M456.2 3336V3376M457.7 3342V3381M459.2 3336V3383M460.7 3338V3383M462.2 3338V3385M463.7 3328V3390M465.2 3344V3386M466.7 3341V3375M468.2 3339V3379M469.7 3338V3375M471.2 3344V3378M472.7 3342V3380M474.2 3340V3384M475.7 3334V3375M477.2 3337V3377M478.7 3340V3375M480.2 3339V3381M481.7 3337V3374M483.2 3337V3378M484.7 3338V3378M486.2 3343V3373M487.7 3343V3375M489.2 3340V3377M490.7 3337V3379M492.2 3340V3375M493.7 3342V3380M495.2 3341V3381M496.7 3340V3379M498.2 3344V3380M499.7 3340V3383M501.2 3337V3376M502.7 3343V3377M504.2 3334V3378M505.7 3338V3378M507.2 3339V3384M508.7 3343V3383M510.2 3343V3384M511.7 3339V3383M513.2 3341V3383M514.7 3342V3377M516.2 3337V3385M517.7 3338V3382M519.2 3341V3374M520.7 3336V3376M522.2 3338V3377M523.7 3333V3377M525.2 3330V3388M526.7 3342V3387M528.2 3333V3387M529.7 3331V3377M531.2 3338V3378M532.7 3343V3385M534.2 3334V3385M535.7 3336V3381M537.2 3338V3384M538.7 3343V3381M540.2 3342V3382M541.7 3335V3382M543.2 3336V3376M544.7 3336V3374M546.2 3334V3378M547.7 3337V3376M549.2 3338V3384M550.7 3343V3382M552.2 3339V3384M553.7 3339V3386M555.2 3341V3380M556.7 3330V3388M558.2 3340V3373M559.7 3337V3375M561.2 3344V3376M562.7 3339V3383M564.2 3342V3385M565.7 3332V3382M567.2 3345V3380M568.7 3339V3386M570.2 3334V3380M571.7 3334V3386M573.2 3333V3382M574.7 3333V3381M576.2 3334V3383M577.7 3334V3385M579.2 3336V3384M580.7 3331V3380M582.2 3335V3377M583.7 3331V3389M585.2 3340V3390M586.7 3335V3386M588.2 3338V3390M589.7 3339V3392M591.2 3329V3394M592.7 3331V3395M594.2 3319V3399M595.7 3330V3393M597.2 3336V3385M598.7 3328V3391M600.2 3330V3385M601.7 3333V3383M603.2 3342V3376M604.7 3338V3376M606.2 3339V3374M607.7 3337V3374M609.2 3337V3383M610.7 3336V3384M612.2 3341V3376M613.7 3339V3376M615.2 3341V3384M616.7 3337V3376M618.2 3337V3381M619.7 3341V3384M621.2 3338V3377M622.7 3333V3385M624.2 3344V3375M625.7 3341V3376M627.2 3334V3375M628.7 3337V3385M630.2 3340V3381M631.7 3334V3382M633.2 3344V3384M634.7 3339V3383M636.2 3339V3379M637.7 3340V3376M639.2 3335V3376M640.7 3345V3376M642.2 3345V3375M643.7 3341V3374M645.2 3343V3381M646.7 3334V3380M648.2 3336V3382M649.7 3339V3380M651.2 3339V3378M652.7 3333V3385M654.2 3340V3376M655.7 3344V3375M657.2 3335V3378M658.7 3335V3376M660.2 3343V3380M661.7 3336V3383M663.2 3345V3383M664.7 3334V3384M666.2 3332V3380M667.7 3335V3378M669.2 3343V3378M670.7 3342V3384M672.2 3330V3388M673.7 3342V3377M675.2 3340V3380M676.7 3341V3381M678.2 3343V3378M679.7 3341V3377M681.2 3337V3377M682.7 3345V3378M684.2 3342V3382M685.7 3336V3376M687.2 3336V3378M688.7 3340V3380M690.2 3339V3382M691.7 3340V3375M693.2 3335V3377M694.7 3338V3374M696.2 3337V3383M697.7 3338V3382M699.2 3338V3381M700.7 3339V3378M702.2 3333V3384M703.7 3340V3379M705.2 3337V3378M706.7 3336V3384M708.2 3337V3385M709.7 3335V3382M711.2 3342V3380M712.7 3338V3385M714.2 3339V3382M715.7 3340V3383M717.2 3342V3385M718.7 3335V3383M720.2 3342V3385M721.7 3328V3390M723.2 3340V3388M724.7 3332V3385M726.2 3335V3381M727.7 3342V3386M729.2 3340V3385M730.7 3338V3377M732.2 3337V3381M733.7 3338V3380M735.2 3336V3383M736.7 3338V3380M738.2 3342V3378M739.7 3343V3376M741.2 3339V3376M742.7 3340V3382M744.2 3341V3377M745.7 3342V3382M747.2 3341V3383M748.7 3341V3379M750.2 3339V3382M751.7 3340V3381M753.2 3337V3386M754.7 3338V3379M756.2 3341V3387M757.7 3329V3382M759.2 3332V3385M760.7 3332V3387M762.2 3329V3389M763.7 3329V3389M765.2 3328V3391M766.7 3331V3389M768.2 3329V3394M769.7 3316V3395M771.2 3317V3398M772.7 3326V3392M774.2 3320V3396M775.7 3318V3389M777.2 3318V3402M778.7 3314V3401M780.2 3310V3408M781.7 3326V3383M783.2 3323V3388M784.7 3321V3386M786.2 3322V3391M787.7 3325V3389M789.2 3329V3391M790.7 3339V3386M792.2 3331V3387M793.7 3337V3379M795.2 3338V3380M796.7 3334V3379M798.2 3335V3382M799.7 3337V3380M801.2 3336V3380M802.7 3335V3380M804.2 3336V3382M805.7 3338V3382M807.2 3340V3382M808.7 3335V3384M810.2 3335V3384M811.7 3329V3385M813.2 3329V3388M814.7 3331V3379M816.2 3335V3385M817.7 3333V3386M819.2 3334V3385M820.7 3330V3388M822.2 3329V3388M823.7 3328V3384M825.2 3329V3390M826.7 3322V3383M828.2 3322V3388M829.7 3323V3399M831.2 3311V3405M832.7 3328V3400M834.2 3314V3385M835.7 3310V3393M837.2 3304V3414M838.7 3332V3393M840.2 3307V3408M841.7 3315V3396M843.2 3320V3407M844.7 3329V3394M846.2 3333V3385M847.7 3318V3396M849.2 3315V3403M850.7 3325V3401M852.2 3324V3392M853.7 3329V3399M855.2 3324V3393M856.7 3329V3390M858.2 3330V3389M859.7 3324V3387M861.2 3318V3389M862.7 3321V3392M864.2 3331V3392M865.7 3330V3397M867.2 3325V3385M868.7 3326V3392M870.2 3327V3392M871.7 3328V3391M873.2 3334V3382M874.7 3340V3392M876.2 3336V3391M877.7 3330V3385M879.2 3330V3388M880.7 3335V3380M882.2 3332V3380M883.7 3340V3377M885.2 3333V3380M886.7 3342V3380M888.2 3341V3382M889.7 3336V3380M891.2 3335V3383M892.7 3338V3382M894.2 3335V3381M895.7 3339V3380M897.2 3339V3379M898.7 3334V3378M900.2 3341V3381M901.7 3340V3383M903.2 3343V3382M904.7 3342V3382M906.2 3340V3381M907.7 3334V3376M909.2 3342V3383M910.7 3330V3388M912.2 3337V3378M913.7 3339V3377M915.2 3336V3382M916.7 3338V3377M918.2 3338V3376M919.7 3334V3383M921.2 3335V3380M922.7 3339V3384M924.2 3338V3384M925.7 3344V3382M927.2 3344V3381M928.7 3335V3378M930.2 3338V3376M931.7 3340V3378M933.2 3336V3376M934.7 3336V3377M936.2 3340V3377M937.7 3338V3380M939.2 3338V3375M940.7 3339V3374M942.2 3341V3381M943.7 3339V3382M945.2 3337V3383M946.7 3333V3375M948.2 3334V3382M949.7 3338V3375M951.2 3340V3378M952.7 3338V3380M954.2 3339V3378M955.7 3339V3384M957.2 3324V3394M958.7 3331V3388M960.2 3329V3388M961.7 3336V3382M963.2 3331V3375M964.7 3330V3374M966.2 3336V3377M967.7 3333V3380M969.2 3336V3381M970.7 3339V3381M972.2 3341V3380M973.7 3341V3377M975.2 3344V3375M976.7 3336V3382M978.2 3336V3379M979.7 3337V3376M981.2 3337V3375M982.7 3336V3373M984.2 3339V3376M985.7 3337V3385M987.2 3342V3386M988.7 3330V3386M990.2 3343V3385M991.7 3343V3374M993.2 3328V3378M994.7 3336V3380M996.2 3331V3379M997.7 3326V3392M999.2 3339V3382M1000.7 3336V3379M1002.2 3335V3378M1003.7 3330V3378M1005.2 3340V3381M1006.7 3342V3374M1008.2 3342V3377M1009.7 3339V3380M1011.2 3338V3384M1012.7 3339V3381M1014.2 3339V3379M1015.7 3339V3377M1017.2 3344V3381M1018.7 3336V3383M1020.2 3336V3378M1021.7 3338V3374M1023.2 3343V3376M1024.7 3334V3375M1026.2 3334V3379M1027.7 3341V3383M1029.2 3342V3385M1030.7 3338V3386M1032.2 3336V3384M1033.7 3332V3381M1035.2 3336V3379M1036.7 3335V3381M1038.2 3341V3388M1039.7 3337V3389M1041.2 3342V3387M1042.7 3331V3379M1044.2 3331V3392M1045.7 3333V3385M1047.2 3324V3394M1048.7 3333V3393M1050.2 3325V3389M1051.7 3334V3384M1053.2 3335V3382M1054.7 3335V3380M1056.2 3333V3383M1057.7 3333V3387M1059.2 3336V3377M1060.7 3344V3378M1062.2 3342V3385M1063.7 3343V3382M1065.2 3335V3383M1066.7 3337V3384M1068.2 3342V3385M1069.7 3336V3385M1071.2 3340V3381M1072.7 3335V3376M1074.2 3337V3385M1075.7 3337V3384M1077.2 3338V3384M1078.7 3340V3379M1080.2 3338V3375M1081.7 3336V3380M1083.2 3333V3385M1084.7 3337V3382M1086.2 3341V3383M1087.7 3342V3381M1089.2 3342V3379M1090.7 3340V3377M1092.2 3338V3381M1093.7 3337V3379M1095.2 3339V3374M1096.7 3345V3376M1098.2 3337V3378M1099.7 3343V3379M1101.2 3341V3381M1102.7 3341V3379M1104.2 3337V3378M1105.7 3341V3378M1107.2 3339V3376M1108.7 3341V3375M1110.2 3337V3378M1111.7 3337V3379M1113.2 3339V3382M1114.7 3337V3376M1116.2 3341V3379M1117.7 3341V3382M1119.2 3335V3379M1120.7 3332V3387M1122.2 3333V3381M1123.7 3332V3377M1125.2 3333V3382M1126.7 3335V3380M1128.2 3332V3391M1129.7 3324V3394M1131.2 3339V3388M1132.7 3331V3384M1134.2 3332V3386M1135.7 3338V3383M1137.2 3339V3379M1138.7 3341V3379M1140.2 3343V3379M1141.7 3340V3376M1143.2 3344V3381M1144.7 3343V3375M1146.2 3341V3380M1147.7 3335V3381M1149.2 3336V3379M1150.7 3333V3374M1152.2 3332V3383M1153.7 3342V3385M1155.2 3342V3390M1156.7 3334V3378M1158.2 3340V3378M1159.7 3328V3389M1161.2 3333V3387M1162.7 3335V3392M1164.2 3329V3390M1165.7 3325V3386M1167.2 3337V3384M1168.7 3324V3394M1170.2 3333V3384M1171.7 3326V3387M1173.2 3341V3390M1174.7 3334V3387M1176.2 3334V3386M1177.7 3334V3385M1179.2 3335V3382M1180.7 3341V3383M1182.2 3341V3377M1183.7 3344V3384M1185.2 3344V3376M1186.7 3334V3377M1188.2 3336V3378M1189.7 3338V3382M1191.2 3344V3377M1192.7 3338V3382M1194.2 3343V3374M1195.7 3341V3377M1197.2 3341V3376M1198.7 3338V3378M1200.2 3341V3378M1201.7 3340V3384M1203.2 3341V3381M1204.7 3341V3378M1206.2 3337V3378M1207.7 3337V3377M1209.2 3343V3380M1210.7 3338V3379M1212.2 3340V3384M1213.7 3342V3375M1215.2 3336V3376M1216.7 3339V3385M1218.2 3343V3382M1219.7 3343V3379M1221.2 3332V3383M1222.7 3342V3386M1224.2 3339V3374M1225.7 3330V3388M1227.2 3339V3380M1228.7 3339V3380M1230.2 3336V3376M1231.7 3342V3387M1233.2 3338V3386M1234.7 3337V3379M1236.2 3337V3382M1237.7 3344V3382M1239.2 3341V3385M1240.7 3338V3383M1242.2 3332V3381M1243.7 3330V3381M1245.2 3335V3377M1246.7 3336V3386M1248.2 3335V3379M1249.7 3331V3384M1251.2 3331V3384M1252.7 3330V3384M1254.2 3339V3384M1255.7 3340V3377M1257.2 3322V3380M1258.7 3335V3382M1260.2 3324V3386M1261.7 3337V3392M1263.2 3319V3399M1264.7 3332V3394M1266.2 3341V3390M1267.7 3342V3386M1269.2 3330V3386M1270.7 3330V3385M1272.2 3334V3385M1273.7 3341V3379M1275.2 3337V3379M1276.7 3335V3377M1278.2 3336V3380M1279.7 3339V3382M1281.2 3338V3379M1282.7 3339V3379M1284.2 3338V3379M1285.7 3340V3375M1287.2 3342V3377M1288.7 3335V3383M1290.2 3337V3383M1291.7 3335V3381M1293.2 3336V3379M1294.7 3335V3378M1296.2 3341V3381M1297.7 3335V3381M1299.2 3334V3387M1300.7 3332V3386M1302.2 3336V3388M1303.7 3338V3374M1305.2 3338V3377M1306.7 3334V3391M1308.2 3337V3391M1309.7 3340V3390M1311.2 3335V3393M1312.7 3324V3394M1314.2 3332V3384M1315.7 3333V3382M1317.2 3329V3381M1318.7 3335V3380M1320.2 3332V3377M1321.7 3342V3379M1323.2 3335V3380M1324.7 3334V3381M1326.2 3337V3387M1327.7 3335V3380M1329.2 3340V3387M1330.7 3339V3382M1332.2 3334V3383M1333.7 3324V3394M1335.2 3324V3383M1336.7 3331V3380M1338.2 3336V3384M1339.7 3338V3385M1341.2 3338V3387M1342.7 3336V3381M1344.2 3335V3387M1345.7 3337V3385M1347.2 3336V3377M1348.7 3335V3379M1350.2 3339V3377M1351.7 3337V3384M1353.2 3337V3383M1354.7 3337V3380M1356.2 3340V3380M1357.7 3335V3378M1359.2 3338V3380M1360.7 3336V3379M1362.2 3338V3378M1363.7 3342V3379M1365.2 3339V3382M1366.7 3338V3381M1368.2 3336V3381M1369.7 3337V3381M1371.2 3333V3385M1372.7 3340V3392M1374.2 3342V3390M1375.7 3334V3383M1377.2 3330V3389M1378.7 3319V3399M1380.2 3338V3383M1381.7 3328V3384M1383.2 3328V3384M1384.7 3340V3382M1386.2 3340V3376M1387.7 3342V3385M1389.2 3340V3384M1390.7 3339V3377M1392.2 3337V3376M1393.7 3337V3378M1395.2 3335V3385M1396.7 3344V3386M1398.2 3336V3376M1399.7 3334V3379M1401.2 3331V3384M1402.7 3337V3383M1404.2 3329V3390M1405.7 3334V3389M1407.2 3332V3388M1408.7 3331V3392M1410.2 3336V3387M1411.7 3325V3389M1413.2 3329V3390M1414.7 3330V3387M1416.2 3330V3389M1417.7 3325V3395M1419.2 3342V3390M1420.7 3321V3397M1422.2 3331V3387M1423.7 3332V3389M1425.2 3333V3383M1426.7 3338V3382M1428.2 3331V3377M1429.7 3335V3387M1431.2 3337V3386M1432.7 3338V3382M1434.2 3344V3378M1435.7 3336V3380M1437.2 3338V3378M1438.7 3336V3378M1440.2 3336V3380M1441.7 3336V3382M1443.2 3340V3381M1444.7 3344V3381M1446.2 3339V3381M1447.7 3339V3379M1449.2 3339V3377M1450.7 3340V3380M1452.2 3338V3379M1453.7 3337V3377M1455.2 3335V3377M1456.7 3341V3381M1458.2 3338V3384M1459.7 3339V3388M1461.2 3335V3385M1462.7 3328V3390M1464.2 3342V3386M1465.7 3338V3386M1467.2 3341V3380M1468.7 3337V3373M1470.2 3334V3375M1471.7 3336V3376M1473.2 3343V3377M1474.7 3338V3378M1476.2 3345V3375M1477.7 3337V3377M1479.2 3340V3378M1480.7 3342V3373M1482.2 3346V3381M1483.7 3338V3378M1485.2 3341V3381M1486.7 3341V3381M1488.2 3345V3375M1489.7 3344V3375M1491.2 3339V3374M1492.7 3341V3374M1494.2 3339V3376M1495.7 3337V3381M1497.2 3341V3373M1498.7 3344V3375M1500.2 3339V3379M1501.7 3344V3380M1503.2 3341V3376M1504.7 3343V3374M1506.2 3346V3375M1507.7 3345V3374M1509.2 3343V3378" stroke="#F95206" stroke-width="2.0" fill="none"/>
<text x="214.3" y="2869.3" text-anchor="end" font-size="39.8">0.03</text>
<text x="214.3" y="3037.6" text-anchor="end" font-size="39.8">0.02</text>
<text x="214.3" y="3206.0" text-anchor="end" font-size="39.8">0.01</text>
<text x="214.3" y="3374.3" text-anchor="end" font-size="39.8">0</text>
<text x="214.3" y="3542.6" text-anchor="end" font-size="39.8">-0.01</text>
<text x="214.3" y="3711.0" text-anchor="end" font-size="39.8">-0.02</text>
<text x="214.3" y="3879.3" text-anchor="end" font-size="39.8">-0.03</text>
<text x="228.7" y="3919.3" text-anchor="middle" font-size="39.0">0</text>
<text x="371.1" y="3919.3" text-anchor="middle" font-size="39.0">2</text>
<text x="513.5" y="3919.3" text-anchor="middle" font-size="39.0">4</text>
<text x="655.9" y="3919.3" text-anchor="middle" font-size="39.0">6</text>
<text x="798.3" y="3919.3" text-anchor="middle" font-size="39.0">8</text>
<text x="940.8" y="3919.3" text-anchor="middle" font-size="39.0">10</text>
<text x="1083.2" y="3919.3" text-anchor="middle" font-size="39.0">12</text>
<text x="1225.6" y="3919.3" text-anchor="middle" font-size="39.0">14</text>
<text x="1368.0" y="3919.3" text-anchor="middle" font-size="39.0">16</text>
<text x="1510.4" y="3919.3" text-anchor="middle" font-size="39.0">18</text>
<text x="869.8" y="3980.1" text-anchor="middle" font-size="47.5">t (s)</text>
<text transform="translate(100.1,3359.0) rotate(-90)" text-anchor="middle" font-size="47.5">acceleration (m/s<tspan dy="-23.7" font-size="35">2</tspan><tspan dy="23.7">)</tspan></text>
<rect x="1221.6" y="2892.2" width="253.6" height="127.6" fill="#fff"/><rect x="1221.60" y="2892.20" width="251.60" height="1.7" fill="#262626"/><rect x="1221.60" y="2892.20" width="1.7" height="127.60" fill="#262626"/><rect x="1473.20" y="2892.60" width="2.0" height="125.20" fill="#5c5c5c"/><rect x="1471.50" y="2892.20" width="1.8" height="127.60" fill="#262626"/><rect x="1221.60" y="3016.60" width="251.70" height="3.2" fill="#262626"/>
<path d="M1245.3 2931.6H1363.6" stroke="#0073C3" stroke-width="3.4"/>
<path d="M1245.3 2987.6H1363.6" stroke="#F95206" stroke-width="2.4"/>
<text class="lg" x="1375.6" y="2937.6" font-size="35.5">a<tspan dx="1.0" dy="17.5" font-size="27.0">z</tspan></text>
<text class="lg" x="1375.6" y="3002.1" font-size="35.5">noise</text>
<text class="cap" transform="translate(840.8,4123.0) scale(0.985,1)" text-anchor="middle"><tspan class="par">(</tspan><tspan class="let">c</tspan><tspan class="par">)</tspan></text>
</svg>
</body></html>
